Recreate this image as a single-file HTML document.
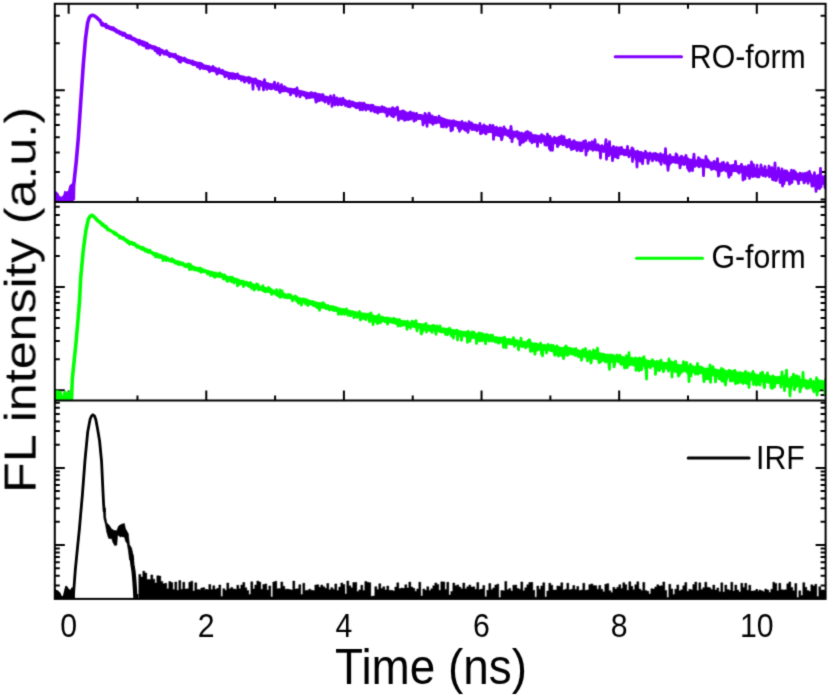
<!DOCTYPE html>
<html><head><meta charset="utf-8"><style>
html,body{margin:0;padding:0;background:#fff;}
svg{display:block;}
</style></head><body>
<svg width="828" height="697" viewBox="0 0 828 697">
<defs><filter id="bl" x="0" y="0" width="828" height="697" filterUnits="userSpaceOnUse" color-interpolation-filters="sRGB"><feConvolveMatrix order="3" kernelMatrix="0.0225 0.105 0.0225 0.105 0.49 0.105 0.0225 0.105 0.0225" divisor="1" edgeMode="duplicate"/></filter><clipPath id="c0"><rect x="54.8" y="3.8" width="770.8" height="198.1"/></clipPath><clipPath id="c1"><rect x="54.8" y="201.9" width="770.8" height="198.7"/></clipPath><clipPath id="c2"><rect x="54.8" y="400.6" width="770.8" height="198.3"/></clipPath></defs>
<g filter="url(#bl)">
<rect width="828" height="697" fill="#fff"/>
<path d="M54.8 199.48H59.8 M825.6 199.48H820.6 M54.8 171.97H59.8 M825.6 171.97H820.6 M54.8 152.45H59.8 M825.6 152.45H820.6 M54.8 137.31H59.8 M825.6 137.31H820.6 M54.8 124.94H59.8 M825.6 124.94H820.6 M54.8 114.48H59.8 M825.6 114.48H820.6 M54.8 105.42H59.8 M825.6 105.42H820.6 M54.8 97.43H59.8 M825.6 97.43H820.6 M54.8 90.28H64.8 M825.6 90.28H815.6 M54.8 43.25H59.8 M825.6 43.25H820.6 M54.8 15.74H59.8 M825.6 15.74H820.6 M54.8 394.98H59.8 M825.6 394.98H820.6 M54.8 390.26H64.8 M825.6 390.26H815.6 M54.8 359.19H59.8 M825.6 359.19H820.6 M54.8 341.01H59.8 M825.6 341.01H820.6 M54.8 328.12H59.8 M825.6 328.12H820.6 M54.8 318.11H59.8 M825.6 318.11H820.6 M54.8 309.94H59.8 M825.6 309.94H820.6 M54.8 303.03H59.8 M825.6 303.03H820.6 M54.8 297.04H59.8 M825.6 297.04H820.6 M54.8 291.76H59.8 M825.6 291.76H820.6 M54.8 287.04H64.8 M825.6 287.04H815.6 M54.8 255.97H59.8 M825.6 255.97H820.6 M54.8 237.79H59.8 M825.6 237.79H820.6 M54.8 224.9H59.8 M825.6 224.9H820.6 M54.8 214.89H59.8 M825.6 214.89H820.6 M54.8 206.72H59.8 M825.6 206.72H820.6 M54.8 585.4H59.8 M825.6 585.4H820.6 M54.8 575.76H59.8 M825.6 575.76H820.6 M54.8 568.28H59.8 M825.6 568.28H820.6 M54.8 562.17H59.8 M825.6 562.17H820.6 M54.8 557H59.8 M825.6 557H820.6 M54.8 552.53H59.8 M825.6 552.53H820.6 M54.8 548.58H59.8 M825.6 548.58H820.6 M54.8 545.05H64.8 M825.6 545.05H815.6 M54.8 521.82H59.8 M825.6 521.82H820.6 M54.8 508.23H59.8 M825.6 508.23H820.6 M54.8 498.59H59.8 M825.6 498.59H820.6 M54.8 491.11H59.8 M825.6 491.11H820.6 M54.8 485H59.8 M825.6 485H820.6 M54.8 479.83H59.8 M825.6 479.83H820.6 M54.8 475.36H59.8 M825.6 475.36H820.6 M54.8 471.41H59.8 M825.6 471.41H820.6 M54.8 467.88H64.8 M825.6 467.88H815.6 M54.8 444.65H59.8 M825.6 444.65H820.6 M54.8 431.06H59.8 M825.6 431.06H820.6 M54.8 421.42H59.8 M825.6 421.42H820.6 M54.8 413.94H59.8 M825.6 413.94H820.6 M54.8 407.83H59.8 M825.6 407.83H820.6 M54.8 402.66H59.8 M825.6 402.66H820.6 M68.65 3.8V13.8 M68.65 201.9V191.9 M68.65 400.6V390.6 M68.65 598.9V588.9 M137.47 3.8V8.8 M137.47 201.9V196.9 M137.47 400.6V395.6 M137.47 598.9V593.9 M206.28 3.8V13.8 M206.28 201.9V191.9 M206.28 400.6V390.6 M206.28 598.9V588.9 M275.1 3.8V8.8 M275.1 201.9V196.9 M275.1 400.6V395.6 M275.1 598.9V593.9 M343.91 3.8V13.8 M343.91 201.9V191.9 M343.91 400.6V390.6 M343.91 598.9V588.9 M412.73 3.8V8.8 M412.73 201.9V196.9 M412.73 400.6V395.6 M412.73 598.9V593.9 M481.54 3.8V13.8 M481.54 201.9V191.9 M481.54 400.6V390.6 M481.54 598.9V588.9 M550.36 3.8V8.8 M550.36 201.9V196.9 M550.36 400.6V395.6 M550.36 598.9V593.9 M619.17 3.8V13.8 M619.17 201.9V191.9 M619.17 400.6V390.6 M619.17 598.9V588.9 M687.99 3.8V8.8 M687.99 201.9V196.9 M687.99 400.6V395.6 M687.99 598.9V593.9 M756.8 3.8V13.8 M756.8 201.9V191.9 M756.8 400.6V390.6 M756.8 598.9V588.9" stroke="#000" stroke-width="2.0" fill="none"/>
<g clip-path="url(#c0)" fill="#8000FF"><path d="M101.5 21.4 102 21.68 102.5 21.93 103 21.87 103.5 22.06 104 22.66 104.5 22.95 105 23.45 105.5 23.47 106 23.34 106.5 23.99 107 24.32 107.5 24.61 108 24.69 108.5 24.55 109 25.4 109.5 25.17 110 25.75 110.5 25.46 111 26.29 111.5 26.15 112 26.86 112.5 27.28 113 27.37 113.5 27.04 114 27.34 114.5 27.6 115 28.23 115.5 28.39 116 28.59 116.5 28.87 117 29.18 117.5 29.44 118 29.94 118.5 29.74 119 30.05 119.5 29.77 120 30.14 120.5 30.54 121 30.66 121.5 31.25 122 31.69 122.5 31.56 123 31.78 123.5 32.01 124 32.41 124.5 32.48 125 32.95 125.5 33.16 126 33.4 126.5 33.74 127 33.79 127.5 34.05 128 34.69 128.5 34.47 129 34.91 129.5 34.96 130 35.06 130.5 35.29 131 35.43 131.5 35.87 132 35.95 132.5 36.22 133 36.86 133.5 36.75 134 37.29 134.5 37.3 135 37.68 135.5 37.54 136 37.95 136.5 38.8 137 38.57 137.5 38.84 138 38.87 138.5 39.25 139 38.97 139.5 39.27 140 39.81 140.5 40.13 141 40.04 141.5 40.32 142 40.5 142.5 40.76 143 40.73 143.5 40.89 144 41.44 144.5 41.25 145 41.65 145.5 41.95 146 42.07 146.5 42.6 147 42.65 147.5 42.95 148 42.94 148.5 43.22 149 43.74 149.5 43.92 150 43.92 150.5 44.34 151 44.51 151.5 44.71 152 45.28 152.5 44.99 153 45.41 153.5 45.62 154 45.66 154.5 45.64 155 46.31 155.5 46.41 156 46.56 156.5 46.76 157 46.97 157.5 46.94 158 47.44 158.5 47.12 159 47.77 159.5 47.6 160 48.09 160.5 48.56 161 48.52 161.5 48.66 162 49.11 162.5 49.12 163 49.28 163.5 49.48 164 50.16 164.5 50.14 165 50.29 165.5 50.07 166 50.72 166.5 50.44 167 51.08 167.5 50.87 168 51.83 168.5 51.12 169 52.04 169.5 52.12 170 51.67 170.5 52.25 171 52.86 171.5 52.97 172 52.46 172.5 52.94 173 52.96 173.5 53.19 174 53.47 174.5 54.28 175 54.04 175.5 54.14 176 54.3 176.5 54.73 177 54.92 177.5 54.7 178 55.49 178.5 55.03 179 55.42 179.5 55.78 180 56.28 180.5 55.95 181 56.28 181.5 56.72 182 56.73 182.5 57.04 183 57.19 183.5 57.18 184 57.45 184.5 57.7 185 57.64 185.5 58.22 186 57.51 186.5 57.95 187 58.71 187.5 58.64 188 58.54 188.5 58.97 189 59.32 189.5 59.09 190 59.59 190.5 59.54 191 59.72 191.5 59.9 192 60.37 192.5 59.98 193 60.34 193.5 60.77 194 60.47 194.5 60.55 195 61.25 195.5 61.28 196 61.41 196.5 61.65 197 61.54 197.5 62.68 198 61.87 198.5 62.17 199 62.09 199.5 62.51 200 63.16 200.5 62.95 201 63.26 201.5 63.15 202 63.89 202.5 63.64 203 63.45 203.5 64.11 204 63.99 204.5 64.4 205 64.44 205.5 64.63 206 64.76 206.5 64.66 207 64.67 207.5 65.45 208 65.33 208.5 65.59 209 65.57 209.5 65.33 210 65.68 210.5 66.5 211 66.11 211.5 66.37 212 66.26 212.5 66.65 213 66.84 213.5 67.03 214 67.22 214.5 67.24 215 67.41 215.5 67.7 216 67.94 216.5 67.97 217 68.6 217.5 68.37 218 68.51 218.5 68.45 219 69.03 219.5 68.66 220 68.67 220.5 68.98 221 69.52 221.5 69.23 222 69.99 222.5 69.81 223 69.59 223.5 70.06 224 70.71 224.5 70.19 225 70.23 225.5 70.83 226 71.18 226.5 71.25 227 71.06 227.5 71.34 228 71.52 228.5 71.87 229 72.26 229.5 71.84 230 72.34 230.5 72.07 231 72.45 231.5 72.21 232 72.4 232.5 72.83 233 72.65 233.5 73.24 234 73.02 234.5 73.32 235 73.42 235.5 73.5 236 73.76 236.5 74.13 237 74.78 237.5 73.85 238 74.36 238.5 74.38 239 74.34 239.5 74.77 240 74.62 240.5 74.96 241 75.43 241.5 74.75 242 75.46 242.5 75.64 243 75.43 243.5 75.94 244 76.03 244.5 75.99 245 76.52 245.5 76.03 246 76.65 246.5 76.57 247 76.5 247.5 76.85 248 76.94 248.5 77.37 249 76.93 249.5 77.39 250 77.45 250.5 78.1 251 77.56 251.5 78.24 252 77.67 252.5 78.32 253 78.34 253.5 78.6 254 78.46 254.5 78.28 255 78.52 255.5 79.36 256 79.22 256.5 79.08 257 79.65 257.5 79.37 258 79.51 258.5 79.52 259 80.25 259.5 80.57 260 79.97 260.5 80.41 261 80.72 261.5 81.13 262 80.13 262.5 80.89 263 81.15 263.5 80.75 264 81.35 264.5 81.42 265 81.68 265.5 81.48 266 81.86 266.5 81.73 267 82.16 267.5 82.18 268 82.17 268.5 82.04 269 82.93 269.5 82.92 270 82.99 270.5 82.73 271 82.93 271.5 83.56 272 83.46 272.5 83.18 273 83.53 273.5 83.68 274 83.72 274.5 83.66 275 84.33 275.5 84.29 276 84.22 276.5 84 277 84.37 277.5 84.63 278 84.98 278.5 84.79 279 85.28 279.5 85.16 280 85.06 280.5 84.67 281 85.2 281.5 85.24 282 85.7 282.5 85.94 283 86.33 283.5 86.1 284 85.93 284.5 86.93 285 86.54 285.5 86.51 286 86.63 286.5 86.48 287 87.1 287.5 87.15 288 87.57 288.5 87.57 289 87.63 289.5 87.85 290 87.58 290.5 87.66 291 87.88 291.5 87.69 292 88.09 292.5 88.16 293 88.53 293.5 88.47 294 88.11 294.5 88.72 295 89.18 295.5 88.48 296 88.87 296.5 89.18 297 88.96 297.5 89.27 298 89.54 298.5 89.31 299 89.83 299.5 89.97 300 89.66 300.5 90.1 301 90.48 301.5 90.28 302 90.55 302.5 90.71 303 90.61 303.5 91.03 304 90.99 304.5 90.76 305 91.25 305.5 91.45 306 91.55 306.5 91.3 307 91.69 307.5 92.03 308 91.85 308.5 92.2 309 92.35 309.5 92.12 310 92.41 310.5 92.28 311 92.73 311.5 92.56 312 92.55 312.5 92.79 313 92.89 313.5 93.12 314 93.25 314.5 92.95 315 93.19 315.5 93.55 316 93.69 316.5 93.7 317 94.45 317.5 94.18 318 93.99 318.5 94.3 319 94.56 319.5 94.43 320 94.01 320.5 94.58 321 94.67 321.5 95.3 322 94.42 322.5 95.37 323 95.05 323.5 95.43 324 95.23 324.5 95.46 325 95.81 325.5 95.65 326 96 326.5 95.82 327 95.85 327.5 96 328 96.04 328.5 96.24 329 96.71 329.5 96.19 330 96.17 330.5 96.69 331 97.22 331.5 97.16 332 97.34 332.5 97.43 333 97.04 333.5 97.35 334 96.76 334.5 97.38 335 97.79 335.5 97.35 336 97.33 336.5 97.62 337 98.11 337.5 98.45 338 98.91 338.5 98.72 339 98.09 339.5 97.99 340 98.71 340.5 99.04 341 98.48 341.5 98.85 342 98.98 342.5 99.2 343 99.25 343.5 99.53 344 99.76 344.5 99.62 345 99.89 345.5 100.3 346 99.65 346.5 99.75 347 100.24 347.5 100.68 348 100.36 348.5 100.69 349 100.44 349.5 100.85 350 100.56 350.5 100.99 351 101.02 351.5 101.12 352 101.47 352.5 101.49 353 101.18 353.5 101.65 354 101.1 354.5 101.88 355 102.42 355.5 101.96 356 102.06 356.5 102.05 357 102.34 357.5 102.12 358 102.5 358.5 102.36 359 102.42 359.5 102.66 360 102.71 360.5 102.39 361 103.44 361.5 103.06 362 102.7 362.5 103.49 363 103.31 363.5 103.47 364 103.69 364.5 103.39 365 102.98 365.5 103.79 366 103.97 366.5 104.26 367 103.91 367.5 104.13 368 104.4 368.5 104.32 369 104.43 369.5 104.65 370 104.44 370.5 105.18 371 104.65 371.5 104.99 372 104.99 372.5 104.99 373 105.4 373.5 105.62 374 105.82 374.5 105.7 375 105.54 375.5 105.96 376 105.48 376.5 105.95 377 106.17 377.5 106.27 378 105.94 378.5 105.95 379 106.83 379.5 106.38 380 106.2 380.5 106.39 381 106.8 381.5 107.19 382 106.99 382.5 107.38 383 107.23 383.5 107.39 384 107.61 384.5 107.37 385 107.63 385.5 107.55 386 107.58 386.5 108 387 107.73 387.5 108.05 388 107.92 388.5 108.19 389 108.18 389.5 108.68 390 108.52 390.5 108.61 391 109.1 391.5 108.05 392 108.59 392.5 108.28 393 109.05 393.5 109.26 394 109.4 394.5 109.4 395 109.21 395.5 109.96 396 109.69 396.5 109.64 397 109.52 397.5 110 398 109.86 398.5 109.97 399 110.23 399.5 110.32 400 110.15 400.5 110.77 401 110.29 401.5 110.36 402 110.81 402.5 110.86 403 110.93 403.5 110.91 404 111.11 404.5 111.05 405 110.87 405.5 111.56 406 111.22 406.5 111.51 407 111.84 407.5 111.76 408 112.53 408.5 111.58 409 111.84 409.5 112.14 410 112.55 410.5 112.24 411 112.04 411.5 112.77 412 112.35 412.5 112.62 413 112.99 413.5 112.69 414 112.84 414.5 113.16 415 113.08 415.5 113.3 416 113.08 416.5 113.38 417 113.23 417.5 113.2 418 114.12 418.5 113.89 419 114.1 419.5 113.72 420 114.04 420.5 114.09 421 113.88 421.5 114.46 422 114.24 422.5 114.46 423 114.22 423.5 114.94 424 114.98 424.5 114.98 425 114.74 425.5 114.93 426 115.46 426.5 115.17 427 115.4 427.5 115.46 428 115.24 428.5 115.99 429 115.2 429.5 115.85 430 115.86 430.5 115.57 431 116.15 431.5 116.29 432 116.26 432.5 116.13 433 116.54 433.5 116.8 434 116.67 434.5 117.13 435 117.01 435.5 117.08 436 117.32 436.5 116.9 437 117.03 437.5 117.38 438 117.47 438.5 117.81 439 117.81 439.5 117.66 440 117.76 440.5 117.73 441 117.79 441.5 117.86 442 118.29 442.5 118.04 443 118.16 443.5 118.38 444 118.3 444.5 118.46 445 118.07 445.5 118.8 446 118.72 446.5 118.93 447 119.07 447.5 118.6 448 119.76 448.5 119.29 449 119.39 449.5 118.99 450 119.68 450.5 119.72 451 119.62 451.5 119.87 452 120.22 452.5 119.9 453 119.85 453.5 120.5 454 120.33 454.5 120.31 455 121.02 455.5 120.57 456 120.58 456.5 120.78 457 120.7 457.5 120.95 458 121.02 458.5 120.91 459 121.1 459.5 121.33 460 121.43 460.5 121.57 461 121.71 461.5 121.67 462 121.82 462.5 121.69 463 121.81 463.5 122.22 464 121.55 464.5 122.23 465 123.02 465.5 121.85 466 122.78 466.5 122.05 467 122.67 467.5 123.07 468 123.12 468.5 122.61 469 122.6 469.5 122.65 470 123.28 470.5 123.09 471 123.28 471.5 123.43 472 123.55 472.5 123.67 473 123.66 473.5 123.31 474 124.17 474.5 123.2 475 124.29 475.5 123.92 476 124.11 476.5 124.11 477 124.24 477.5 124.41 478 124.44 478.5 124.32 479 124.9 479.5 124.63 480 125.19 480.5 124.91 481 124.86 481.5 125.23 482 125.43 482.5 125.07 483 125.31 483.5 125.83 484 125.31 484.5 125.44 485 125.78 485.5 125.52 486 125.3 486.5 125.58 487 126.18 487.5 126.34 488 126.41 488.5 126.45 489 126.13 489.5 126.69 490 126.9 490.5 126.52 491 127.02 491.5 126.78 492 127.01 492.5 127.14 493 126.76 493.5 127.59 494 127.1 494.5 127.37 495 127.36 495.5 127.69 496 127.77 496.5 127.75 497 128.18 497.5 127.99 498 127.91 498.5 127.37 499 128.11 499.5 128.19 500 128.13 500.5 128.22 501 128.67 501.5 128.87 502 129.17 502.5 129.07 503 128.69 503.5 129.02 504 128.7 504.5 129.31 505 129.31 505.5 129.15 506 129.36 506.5 129.41 507 129.4 507.5 129.98 508 130.51 508.5 130.03 509 130.17 509.5 130.03 510 129.99 510.5 130.71 511 130.16 511.5 130.44 512 130.39 512.5 130.66 513 130.58 513.5 130.83 514 130.45 514.5 130.83 515 131.28 515.5 130.76 516 130.94 516.5 131.54 517 131.38 517.5 131.63 518 130.89 518.5 131.57 519 131.3 519.5 131.36 520 131.89 520.5 132.17 521 131.59 521.5 131.77 522 131.98 522.5 132.18 523 131.97 523.5 132.95 524 132.62 524.5 132.47 525 132.51 525.5 133.31 526 133.37 526.5 132.77 527 133.07 527.5 133.38 528 132.85 528.5 133.09 529 133.66 529.5 133.23 530 133.38 530.5 133.23 531 133.46 531.5 133.91 532 133.62 532.5 133.58 533 133.83 533.5 134.52 534 134.2 534.5 134.1 535 134.37 535.5 134.52 536 134.53 536.5 134.12 537 134.74 537.5 134.69 538 135.04 538.5 134.57 539 135.26 539.5 134.96 540 134.74 540.5 135.58 541 135.2 541.5 135.51 542 135.46 542.5 135.86 543 135.94 543.5 136.03 544 136.01 544.5 135.51 545 135.58 545.5 136.13 546 135.93 546.5 136.37 547 136.37 547.5 136.06 548 136.24 548.5 136.3 549 136.44 549.5 136.7 550 137 550.5 137.25 551 136.75 551.5 136.94 552 137.56 552.5 137.47 553 137.39 553.5 136.82 554 137.24 554.5 137.62 555 137.51 555.5 138.24 556 137.85 556.5 137.98 557 137.71 557.5 137.81 558 137.99 558.5 138.08 559 138.26 559.5 138.5 560 138.55 560.5 138.82 561 138.31 561.5 138.79 562 138.87 562.5 139.3 563 138.92 563.5 139.14 564 138.94 564.5 139.33 565 139.41 565.5 139.23 566 139.36 566.5 139.54 567 139.78 567.5 139.43 568 140.02 568.5 139.8 569 140.44 569.5 140.41 570 140.02 570.5 140.05 571 140.91 571.5 140.53 572 140.59 572.5 140.43 573 140.58 573.5 140.9 574 140.93 574.5 140.65 575 141.25 575.5 141.1 576 140.86 576.5 141.43 577 141.22 577.5 141.54 578 141.29 578.5 141.6 579 141.18 579.5 141.76 580 141.37 580.5 141.87 581 141.27 581.5 141.98 582 142.26 582.5 142.28 583 142.54 583.5 142.04 584 142.79 584.5 142.88 585 142.25 585.5 142.44 586 142.57 586.5 142.79 587 142.92 587.5 142.33 588 143.19 588.5 143.05 589 142.94 589.5 143.52 590 143.27 590.5 143.73 591 143.65 591.5 143.52 592 143.97 592.5 143.96 593 143.71 593.5 143.51 594 143.86 594.5 144.23 595 144.1 595.5 144.68 596 144.38 596.5 144.44 597 144.58 597.5 144.33 598 144.6 598.5 144.55 599 144.2 599.5 144.42 600 145.14 600.5 144.92 601 145.08 601.5 144.82 602 145.12 602.5 145.54 603 145.45 603.5 145.37 604 145.97 604.5 145.65 605 145.65 605.5 146.11 606 145.46 606.5 146.12 607 145.78 607.5 145.94 608 146.04 608.5 146.33 609 146.4 609.5 146.53 610 146.58 610.5 146.96 611 147.11 611.5 146.94 612 147.03 612.5 146.83 613 146.72 613.5 147.23 614 147.16 614.5 147.45 615 146.85 615.5 148.06 616 147.15 616.5 147.55 617 147.87 617.5 147.35 618 147.64 618.5 147.35 619 147.57 619.5 147.52 620 148.12 620.5 148.24 621 148.17 621.5 148.64 622 148.75 622.5 148.48 623 148.5 623.5 148.56 624 148.6 624.5 149.12 625 148.93 625.5 148.86 626 148.96 626.5 149.23 627 149.07 627.5 149.33 628 149.32 628.5 149.75 629 149.77 629.5 149.2 630 149.6 630.5 149.89 631 149.68 631.5 150.07 632 150.03 632.5 150.17 633 150.08 633.5 150.25 634 150.38 634.5 149.96 635 150.17 635.5 150.22 636 150.98 636.5 150.71 637 150.8 637.5 150.83 638 150.73 638.5 150.75 639 151.23 639.5 151 640 151.56 640.5 151.29 641 151.34 641.5 151.34 642 151.45 642.5 151.55 643 152 643.5 152.28 644 151.48 644.5 151.91 645 152.1 645.5 151.77 646 151.92 646.5 152.04 647 151.62 647.5 152.47 648 152.37 648.5 152.43 649 152.55 649.5 152.67 650 153.26 650.5 152.8 651 153.04 651.5 152.77 652 153.07 652.5 152.98 653 153.09 653.5 152.98 654 153.07 654.5 153.47 655 153.62 655.5 153.62 656 153.41 656.5 153.73 657 153.09 657.5 154.04 658 153.87 658.5 154.02 659 154.32 659.5 154 660 154.42 660.5 154.14 661 154.46 661.5 154.3 662 154.55 662.5 154.91 663 154.46 663.5 154.54 664 154.69 664.5 154.92 665 155.61 665.5 154.85 666 154.56 666.5 154.98 667 154.82 667.5 155.15 668 155.37 668.5 155.2 669 155.34 669.5 155.12 670 155.7 670.5 155.54 671 156.08 671.5 156.14 672 155.73 672.5 155.93 673 156.11 673.5 156.36 674 155.83 674.5 156.3 675 156.86 675.5 156.44 676 156.59 676.5 156.61 677 156.39 677.5 157 678 156.9 678.5 156.94 679 157.16 679.5 157.25 680 156.65 680.5 157.32 681 157.12 681.5 157.38 682 157.23 682.5 157.27 683 157.8 683.5 157.63 684 157.63 684.5 157.7 685 157.87 685.5 157.92 686 157.4 686.5 157.85 687 158.08 687.5 158.4 688 158.62 688.5 158.12 689 158.91 689.5 158.52 690 158.69 690.5 158.51 691 158.56 691.5 159.15 692 158.8 692.5 158.9 693 159.29 693.5 159.51 694 158.77 694.5 159.17 695 159.29 695.5 159.82 696 160.05 696.5 159.49 697 159.67 697.5 159.86 698 160.01 698.5 159.71 699 160.08 699.5 159.76 700 159.33 700.5 159.73 701 160.2 701.5 160.41 702 159.72 702.5 159.91 703 160.42 703.5 159.65 704 160.71 704.5 160.9 705 159.97 705.5 160.98 706 160.81 706.5 161.28 707 161.07 707.5 161.01 708 161.17 708.5 161.44 709 161.33 709.5 161.36 710 161.06 710.5 161.61 711 161.57 711.5 162.09 712 161.7 712.5 161.75 713 161.68 713.5 162.09 714 161.93 714.5 161.87 715 162.52 715.5 162.64 716 162.14 716.5 162.07 717 162.68 717.5 162.26 718 163.24 718.5 162.57 719 162.92 719.5 162.42 720 162.8 720.5 163.16 721 163.06 721.5 162.89 722 163.7 722.5 163.34 723 163.17 723.5 163.14 724 163.3 724.5 163.77 725 163.31 725.5 163.58 726 163.43 726.5 164.02 727 163.73 727.5 164.06 728 164.05 728.5 163.83 729 164.22 729.5 164.35 730 163.9 730.5 164.43 731 165.21 731.5 164.31 732 164.62 732.5 164.19 733 164.71 733.5 164.51 734 164.92 734.5 164.78 735 164.57 735.5 165.21 736 164.94 736.5 164.81 737 165.15 737.5 164.96 738 165.37 738.5 165.32 739 165.31 739.5 165.64 740 165.21 740.5 165.85 741 165.16 741.5 166.14 742 165.85 742.5 165.8 743 165.75 743.5 166.14 744 166.03 744.5 166.09 745 166.47 745.5 166.16 746 166.28 746.5 166.51 747 166.74 747.5 166.5 748 166.64 748.5 166.68 749 166.92 749.5 167.18 750 166.63 750.5 166.9 751 166.99 751.5 167.22 752 167.51 752.5 167.19 753 167.32 753.5 167.62 754 167.08 754.5 167.27 755 167.41 755.5 167.59 756 167.72 756.5 167.59 757 168.23 757.5 167.68 758 167.87 758.5 168.26 759 168.25 759.5 168.11 760 168.28 760.5 168.45 761 168.31 761.5 168.54 762 168.21 762.5 168.52 763 168.15 763.5 168.41 764 168.41 764.5 169.08 765 168.71 765.5 168.97 766 168.72 766.5 168.97 767 169.01 767.5 168.93 768 169.43 768.5 168.85 769 169.5 769.5 170.08 770 169.26 770.5 169.54 771 169.2 771.5 169.65 772 169.28 772.5 169.94 773 169.72 773.5 169.44 774 169.65 774.5 169.63 775 170.03 775.5 170.38 776 170.13 776.5 169.99 777 170.14 777.5 170.44 778 169.86 778.5 170.69 779 170.7 779.5 170.04 780 171.03 780.5 170.37 781 170.8 781.5 171.21 782 170.56 782.5 170.57 783 170.81 783.5 170.89 784 171.19 784.5 171.15 785 171.22 785.5 171.29 786 171.43 786.5 171.32 787 171.68 787.5 171.66 788 171.46 788.5 172.25 789 171.52 789.5 172.1 790 171.78 790.5 172.13 791 172.23 791.5 172.38 792 172.59 792.5 172.07 793 173.08 793.5 172.51 794 172.27 794.5 172.19 795 173.2 795.5 173.08 796 172.72 796.5 172.98 797 173.18 797.5 172.93 798 172.86 798.5 173.02 799 173.31 799.5 173.16 800 172.9 800.5 173.47 801 172.9 801.5 173.21 802 173.77 802.5 173.58 803 173.64 803.5 173.67 804 173.96 804.5 173.75 805 173.32 805.5 173.94 806 173.15 806.5 173.47 807 174.46 807.5 174.38 808 174.06 808.5 174.22 809 174.32 809.5 174.61 810 174.22 810.5 174.25 811 174.37 811.5 174.63 812 174.72 812.5 174.61 813 174.96 813.5 174.57 814 174.87 814.5 174.77 815 174.75 815.5 175.38 816 175.04 816.5 174.93 817 175.25 817.5 175.04 818 175.51 818.5 175.63 819 175.74 819.5 175.26 820 175.56 820.5 176.12 821 175.66 821.5 176.09 822 176.22 822.5 175.53 823 176.25 823.5 176.19 824 176.28 824.5 176.55 825 176.29 825.5 176.25 826 176.45 826.5 176.26 827 176.53 827.5 175.95 L827.5 184.23 827 184.33 826.5 184.03 826 184.27 825.5 184.05 825 183.93 824.5 183.54 824 183.74 823.5 183.37 823 183.78 822.5 183.37 822 182.81 821.5 183.25 821 182.96 820.5 182.76 820 183.38 819.5 183.18 819 182.8 818.5 182.89 818 183.08 817.5 182.93 817 182.76 816.5 182.04 816 182.85 815.5 182.8 815 182.47 814.5 182.5 814 182.56 813.5 182.16 813 182.39 812.5 182.01 812 182.07 811.5 182.41 811 182.06 810.5 182.18 810 182.05 809.5 181.78 809 181.9 808.5 181.75 808 181.47 807.5 181.95 807 181.24 806.5 181.35 806 181.49 805.5 181.14 805 180.96 804.5 180.94 804 181.4 803.5 180.86 803 181.36 802.5 181 802 181.15 801.5 180.82 801 180.65 800.5 181.02 800 180.39 799.5 180.52 799 180.65 798.5 180.66 798 180.42 797.5 180.41 797 180.52 796.5 180.69 796 180.37 795.5 180.21 795 179.8 794.5 180.19 794 180.23 793.5 179.46 793 179.67 792.5 179.31 792 179.67 791.5 179.34 791 180.12 790.5 179.81 790 179.73 789.5 179.45 789 179.29 788.5 179.13 788 179.36 787.5 179.28 787 179.2 786.5 179.35 786 179.08 785.5 178.89 785 178.88 784.5 178.58 784 178.89 783.5 178.69 783 178.34 782.5 178.43 782 177.99 781.5 178.2 781 178.19 780.5 178.29 780 178.19 779.5 177.63 779 177.62 778.5 178.16 778 177.87 777.5 177.64 777 177.78 776.5 177.11 776 177.26 775.5 177.48 775 177.69 774.5 177.48 774 177.77 773.5 177.24 773 177.52 772.5 177.53 772 177.39 771.5 177.19 771 176.91 770.5 176.92 770 176.74 769.5 176.35 769 176.76 768.5 176.69 768 176.79 767.5 176.05 767 176.48 766.5 176.86 766 176.12 765.5 176.48 765 176.33 764.5 176.09 764 175.97 763.5 175.44 763 175.56 762.5 176.12 762 175.96 761.5 175.69 761 175.57 760.5 175.42 760 175.44 759.5 175.55 759 175.32 758.5 174.97 758 175.44 757.5 175.08 757 175.58 756.5 174.77 756 174.58 755.5 174.76 755 174.69 754.5 174.51 754 174.59 753.5 174.36 753 175.12 752.5 174.41 752 174.59 751.5 174.3 751 173.56 750.5 174.12 750 173.8 749.5 174.26 749 173.99 748.5 174.14 748 173.84 747.5 173.88 747 173.68 746.5 173.86 746 173.8 745.5 173.76 745 173.09 744.5 173.47 744 173.32 743.5 173.74 743 173.21 742.5 172.9 742 173.66 741.5 173.06 741 172.97 740.5 172.78 740 172.72 739.5 172.95 739 172.58 738.5 172.36 738 172.6 737.5 172.5 737 172.4 736.5 172.54 736 172.1 735.5 172.03 735 172.36 734.5 172.11 734 171.89 733.5 171.75 733 171.94 732.5 172.05 732 171.77 731.5 171.31 731 171.54 730.5 171.24 730 171.34 729.5 171.85 729 171.29 728.5 171.29 728 171.57 727.5 171.03 727 171.1 726.5 170.79 726 170.65 725.5 170.58 725 170.5 724.5 170.66 724 170.46 723.5 170.68 723 170.34 722.5 169.95 722 170.45 721.5 170.01 721 169.77 720.5 170.14 720 170.19 719.5 169.66 719 170.49 718.5 169.82 718 169.67 717.5 170.14 717 169.53 716.5 169.57 716 169.58 715.5 169.32 715 169.13 714.5 168.94 714 169.42 713.5 168.79 713 168.88 712.5 168.51 712 168.74 711.5 168.6 711 168.61 710.5 168.6 710 168.67 709.5 168.19 709 168.32 708.5 168.29 708 168.29 707.5 168.15 707 168.2 706.5 168.23 706 167.51 705.5 167.59 705 167.97 704.5 167.37 704 168.11 703.5 167.22 703 167.79 702.5 167.95 702 167.13 701.5 167.67 701 167.55 700.5 167.05 700 166.85 699.5 167.42 699 166.82 698.5 166.73 698 166.62 697.5 166.63 697 166.82 696.5 166.25 696 166.57 695.5 166.72 695 165.95 694.5 165.75 694 165.95 693.5 166.23 693 166.47 692.5 165.96 692 165.64 691.5 166.07 691 166.1 690.5 165.24 690 165.54 689.5 165.29 689 165.19 688.5 165.41 688 165.53 687.5 164.95 687 165.3 686.5 164.97 686 165.02 685.5 165.13 685 164.91 684.5 164.92 684 164.56 683.5 164.51 683 164.66 682.5 164.73 682 164.06 681.5 164.57 681 163.93 680.5 163.99 680 164.07 679.5 164.47 679 163.78 678.5 164.34 678 163.9 677.5 163.76 677 163.56 676.5 163.59 676 163.37 675.5 163.41 675 162.68 674.5 163.24 674 163.14 673.5 163.06 673 163.04 672.5 162.89 672 162.37 671.5 162.97 671 162.87 670.5 163 670 162.37 669.5 162.87 669 162.81 668.5 161.7 668 162.57 667.5 162.1 667 162.04 666.5 162.37 666 162.22 665.5 161.88 665 161.7 664.5 161.98 664 161.48 663.5 161.74 663 161.43 662.5 161.58 662 161.43 661.5 161.05 661 161.42 660.5 161.27 660 161.19 659.5 161.08 659 161.11 658.5 160.72 658 161.16 657.5 160.6 657 160.42 656.5 160.35 656 160.56 655.5 160.16 655 160.54 654.5 159.94 654 160.46 653.5 160 653 160.29 652.5 160.1 652 159.78 651.5 159.48 651 159.56 650.5 159.6 650 159.59 649.5 159.53 649 159.43 648.5 159.15 648 158.98 647.5 158.81 647 159.31 646.5 159.06 646 159.1 645.5 158.55 645 159.16 644.5 158.59 644 158.84 643.5 158.81 643 158.33 642.5 158.65 642 158.2 641.5 158.27 641 158.09 640.5 157.79 640 157.88 639.5 157.95 639 157.49 638.5 157.85 638 157.53 637.5 157.75 637 157.52 636.5 157.56 636 157.41 635.5 156.97 635 157.3 634.5 157.16 634 157.23 633.5 157.33 633 157.38 632.5 156.57 632 156.66 631.5 156.93 631 156.45 630.5 156.44 630 156.46 629.5 156.46 629 156.22 628.5 156.31 628 156.38 627.5 155.98 627 155.91 626.5 156.08 626 156.13 625.5 155.4 625 155.46 624.5 155.71 624 155.42 623.5 155.79 623 155.72 622.5 155.32 622 154.74 621.5 154.72 621 155 620.5 154.99 620 154.71 619.5 154.63 619 154.3 618.5 155.03 618 154.5 617.5 154.63 617 154.23 616.5 154.47 616 154.7 615.5 154.24 615 154.18 614.5 153.84 614 153.89 613.5 153.93 613 153.73 612.5 153.92 612 153.72 611.5 153.58 611 153.42 610.5 153.21 610 152.94 609.5 152.97 609 153.32 608.5 152.84 608 152.84 607.5 153.24 607 152.42 606.5 152.58 606 152.71 605.5 152.7 605 152.8 604.5 152.49 604 152.4 603.5 152.65 603 152.35 602.5 152.46 602 152 601.5 151.65 601 152.14 600.5 151.71 600 151.56 599.5 151.54 599 151.71 598.5 151.75 598 151.75 597.5 151.1 597 151.28 596.5 151.26 596 151.4 595.5 151.33 595 150.62 594.5 150.63 594 150.34 593.5 150.8 593 150.26 592.5 150.66 592 150.43 591.5 150.27 591 150.46 590.5 149.76 590 150.36 589.5 150.13 589 149.77 588.5 149.57 588 149.46 587.5 149.58 587 149.66 586.5 149.11 586 149.14 585.5 149.34 585 149 584.5 148.91 584 148.32 583.5 148.84 583 148.86 582.5 148.62 582 149.21 581.5 148.71 581 148.41 580.5 148.38 580 147.84 579.5 148.02 579 147.72 578.5 148.13 578 148.23 577.5 147.89 577 147.92 576.5 148.06 576 147.69 575.5 147.35 575 147.33 574.5 147.74 574 147.43 573.5 147.33 573 147.31 572.5 147.27 572 147.17 571.5 147.12 571 147.15 570.5 146.48 570 146.67 569.5 146.49 569 146.86 568.5 146.83 568 146.52 567.5 146.64 567 146.1 566.5 145.8 566 145.56 565.5 146 565 145.71 564.5 145.47 564 145.62 563.5 145.52 563 145.5 562.5 145.34 562 145.1 561.5 144.81 561 145.22 560.5 144.97 560 145.05 559.5 145.17 559 144.87 558.5 144.5 558 144.38 557.5 144.57 557 144.58 556.5 144.38 556 144.36 555.5 144.22 555 143.79 554.5 144.03 554 143.74 553.5 143.59 553 143.74 552.5 143.7 552 143.75 551.5 143.05 551 143.32 550.5 143.59 550 142.86 549.5 143.62 549 143.56 548.5 143.23 548 143.14 547.5 142.83 547 142.79 546.5 143.02 546 142.84 545.5 142.86 545 142.64 544.5 142.28 544 142.18 543.5 142.75 543 142.28 542.5 142 542 142.06 541.5 141.97 541 141.88 540.5 141.78 540 141.61 539.5 141.33 539 141.59 538.5 142.06 538 141.21 537.5 141.35 537 140.82 536.5 140.79 536 140.82 535.5 140.85 535 140.67 534.5 140.53 534 140.73 533.5 140.64 533 140.32 532.5 140.08 532 139.95 531.5 140.39 531 139.88 530.5 139.79 530 140.12 529.5 139.78 529 139.16 528.5 139.53 528 139.63 527.5 139.18 527 139.59 526.5 139.48 526 138.97 525.5 139.14 525 139.19 524.5 139.11 524 138.86 523.5 138.81 523 138.67 522.5 138.76 522 138.74 521.5 138.44 521 138.32 520.5 138.35 520 137.82 519.5 138 519 138.03 518.5 138.28 518 137.73 517.5 137.64 517 137.58 516.5 137.76 516 137.53 515.5 137.71 515 136.85 514.5 137.39 514 137.44 513.5 137.29 513 137.21 512.5 136.16 512 136.74 511.5 136.88 511 136.62 510.5 136.22 510 136.49 509.5 136.08 509 135.95 508.5 136.24 508 136.19 507.5 135.82 507 135.51 506.5 136.02 506 135.75 505.5 135.52 505 135.25 504.5 135.65 504 135.69 503.5 135.16 503 135.51 502.5 134.88 502 135.22 501.5 134.93 501 134.86 500.5 134.46 500 134.75 499.5 134.66 499 134.11 498.5 133.86 498 134.19 497.5 134.17 497 134.04 496.5 133.7 496 133.54 495.5 134.01 495 133.5 494.5 133.55 494 133.89 493.5 133.37 493 133.65 492.5 133.22 492 133.2 491.5 133.27 491 132.79 490.5 133.26 490 132.95 489.5 132.67 489 132.44 488.5 132.38 488 132.5 487.5 132.27 487 132.57 486.5 132.6 486 132.17 485.5 132.35 485 131.56 484.5 131.9 484 131.93 483.5 131.43 483 131.24 482.5 131.45 482 131.8 481.5 131.51 481 131.33 480.5 131.4 480 131.34 479.5 130.68 479 130.83 478.5 130.82 478 130.38 477.5 130.7 477 130.4 476.5 130.55 476 130.72 475.5 130.4 475 130.72 474.5 130.24 474 130.11 473.5 129.32 473 129.55 472.5 129.6 472 129.5 471.5 129.42 471 128.99 470.5 129.39 470 129.19 469.5 129.13 469 128.9 468.5 128.97 468 128.53 467.5 128.26 467 128.46 466.5 128.4 466 128.46 465.5 128.65 465 128.26 464.5 127.58 464 128.56 463.5 127.92 463 127.6 462.5 128.09 462 127.62 461.5 127.81 461 127.77 460.5 127.36 460 127.22 459.5 127.48 459 127.67 458.5 127.02 458 127.01 457.5 126.87 457 126.76 456.5 126.65 456 126.66 455.5 126.39 455 126.96 454.5 126.52 454 126.77 453.5 126.15 453 126.09 452.5 126.13 452 125.96 451.5 125.82 451 126.01 450.5 126.01 450 125.83 449.5 125.69 449 125.49 448.5 125.56 448 124.98 447.5 125.15 447 125.21 446.5 124.9 446 125.24 445.5 125.23 445 124.51 444.5 124.87 444 124.25 443.5 124.52 443 124.62 442.5 124.12 442 124.14 441.5 123.45 441 124.21 440.5 123.52 440 123.37 439.5 123.62 439 123.51 438.5 123.18 438 123.39 437.5 123.43 437 123.21 436.5 122.88 436 123.01 435.5 123.6 435 123.05 434.5 122.84 434 122.5 433.5 122.17 433 121.97 432.5 122.26 432 122.15 431.5 122.02 431 121.9 430.5 121.89 430 121.74 429.5 121.59 429 121.25 428.5 121.72 428 121.16 427.5 121.65 427 121.35 426.5 121.16 426 121.04 425.5 120.65 425 121.15 424.5 120.96 424 120.7 423.5 120.65 423 120.7 422.5 120.54 422 120.45 421.5 120.15 421 119.83 420.5 120.28 420 119.97 419.5 120.12 419 119.6 418.5 119.83 418 119.91 417.5 119.45 417 119.01 416.5 119.44 416 119.24 415.5 119.34 415 119.38 414.5 119.11 414 118.53 413.5 118.63 413 118.79 412.5 118.52 412 118.52 411.5 118.1 411 118.2 410.5 118.01 410 118.42 409.5 117.78 409 118.35 408.5 117.85 408 117.91 407.5 117.78 407 117.85 406.5 116.99 406 117.14 405.5 117.15 405 117.39 404.5 117.13 404 117.07 403.5 117.06 403 117.16 402.5 116.6 402 116.59 401.5 116.28 401 116.42 400.5 116.7 400 116.29 399.5 116.18 399 115.73 398.5 116.18 398 116 397.5 116.28 397 115.85 396.5 115.32 396 115.37 395.5 115.29 395 115.5 394.5 114.7 394 114.8 393.5 114.88 393 114.59 392.5 114.85 392 114.8 391.5 114.85 391 114.41 390.5 114.25 390 114.43 389.5 114.54 389 113.89 388.5 113.84 388 113.82 387.5 113.71 387 113.6 386.5 113.71 386 112.83 385.5 113.5 385 113.68 384.5 113.38 384 113.45 383.5 112.73 383 112.47 382.5 112.79 382 112.84 381.5 112.38 381 112.88 380.5 112.35 380 112.72 379.5 112.4 379 112.7 378.5 112.12 378 112.44 377.5 111.98 377 111.63 376.5 111.78 376 111.73 375.5 111.35 375 111.12 374.5 111.03 374 111.15 373.5 111.05 373 111.07 372.5 110.55 372 110.62 371.5 110.54 371 110.7 370.5 110.45 370 110.68 369.5 110.18 369 110.47 368.5 110.27 368 109.72 367.5 109.94 367 109.7 366.5 109.76 366 110.19 365.5 109.39 365 109.25 364.5 109.53 364 109.2 363.5 108.93 363 108.75 362.5 108.44 362 108.81 361.5 109.09 361 108.44 360.5 108.62 360 108.5 359.5 108.61 359 107.84 358.5 107.96 358 108.29 357.5 107.65 357 107.48 356.5 107.17 356 107.59 355.5 107.88 355 107.34 354.5 107.08 354 107.28 353.5 106.82 353 107.23 352.5 106.98 352 107.03 351.5 106.42 351 106.96 350.5 106.82 350 106.17 349.5 106.81 349 106.18 348.5 106.27 348 106.03 347.5 105.92 347 106.04 346.5 105.59 346 105.52 345.5 105.35 345 105.58 344.5 105.45 344 105.11 343.5 105.28 343 104.58 342.5 104.65 342 104.54 341.5 104.6 341 104.52 340.5 104.72 340 103.87 339.5 104.48 339 104.07 338.5 104.07 338 103.58 337.5 103.65 337 103.51 336.5 103.47 336 103.46 335.5 103.37 335 103.2 334.5 103.36 334 102.74 333.5 102.92 333 102.96 332.5 102.91 332 102.65 331.5 102.12 331 101.92 330.5 101.83 330 102.3 329.5 101.99 329 102.02 328.5 101.86 328 102.13 327.5 101.21 327 100.81 326.5 101.2 326 101.42 325.5 101.46 325 100.95 324.5 101.08 324 100.79 323.5 100.72 323 100.6 322.5 100.96 322 100.64 321.5 100.64 321 100.2 320.5 100.13 320 100.11 319.5 100.26 319 99.87 318.5 99.86 318 99.99 317.5 99.66 317 99.12 316.5 99.6 316 99.02 315.5 98.84 315 99.06 314.5 98.99 314 98.69 313.5 98.57 313 98.3 312.5 98.39 312 98.24 311.5 98.64 311 98.17 310.5 97.93 310 97.88 309.5 96.93 309 97.34 308.5 97.42 308 97.67 307.5 97.12 307 96.79 306.5 97.11 306 96.93 305.5 96.35 305 96.9 304.5 96.41 304 96.53 303.5 96.27 303 96.21 302.5 96.1 302 96.04 301.5 95.8 301 95.72 300.5 95.51 300 95.52 299.5 94.67 299 95.41 298.5 95.09 298 95.04 297.5 95.27 297 94.99 296.5 94.73 296 94.67 295.5 94.72 295 94.72 294.5 94.11 294 94.24 293.5 94.44 293 93.3 292.5 93.41 292 93.6 291.5 93.43 291 92.93 290.5 93.29 290 93.26 289.5 93.21 289 92.6 288.5 92.73 288 92.5 287.5 92.08 287 91.95 286.5 92.1 286 92.21 285.5 92.07 285 92.22 284.5 92.24 284 91.46 283.5 91.39 283 91.38 282.5 91.41 282 91.44 281.5 90.86 281 91.29 280.5 90.88 280 91.22 279.5 90.32 279 90.67 278.5 90.35 278 90.36 277.5 90.29 277 90.38 276.5 90.01 276 89.84 275.5 89.47 275 89.4 274.5 89.17 274 89.26 273.5 89.18 273 88.77 272.5 88.63 272 89.25 271.5 88.7 271 88.16 270.5 87.59 270 88.03 269.5 87.89 269 88.06 268.5 87.17 268 87.8 267.5 87.44 267 87.49 266.5 87.18 266 87.37 265.5 87.06 265 86.74 264.5 86.35 264 86.63 263.5 86.58 263 86.26 262.5 86.82 262 85.81 261.5 85.87 261 85.77 260.5 85.59 260 85.16 259.5 85.7 259 85.01 258.5 85.28 258 85.53 257.5 84.53 257 84.6 256.5 84.75 256 84.97 255.5 84.63 255 84.09 254.5 84.19 254 83.8 253.5 83.76 253 83.79 252.5 83.2 252 83.2 251.5 83.06 251 83.17 250.5 83.1 250 83 249.5 83.02 249 82.71 248.5 82.38 248 82.59 247.5 82.35 247 82.41 246.5 81.85 246 81.69 245.5 81.07 245 80.94 244.5 81.33 244 80.89 243.5 81.11 243 80.97 242.5 80.89 242 80.77 241.5 80.52 241 80.33 240.5 80.29 240 79.85 239.5 80.03 239 79.62 238.5 79.81 238 79.2 237.5 79.33 237 79.26 236.5 78.87 236 78.76 235.5 78.52 235 78.63 234.5 78.47 234 78.14 233.5 77.82 233 77.94 232.5 77.68 232 77.75 231.5 77.06 231 77.37 230.5 77.5 230 77 229.5 76.85 229 77.52 228.5 76.5 228 76.61 227.5 76.21 227 76.08 226.5 76.35 226 76.2 225.5 75.94 225 75.54 224.5 75.72 224 75.53 223.5 75.12 223 75.16 222.5 74.96 222 74.86 221.5 74.27 221 74.52 220.5 74.39 220 74.06 219.5 74.09 219 74.11 218.5 73.85 218 73.78 217.5 73.56 217 73.76 216.5 73.37 216 72.83 215.5 72.96 215 72.68 214.5 72.58 214 72.11 213.5 71.73 213 72.3 212.5 72.1 212 72.16 211.5 71.86 211 71.59 210.5 71.58 210 70.85 209.5 70.81 209 71.21 208.5 70.41 208 70.77 207.5 70.11 207 69.8 206.5 69.72 206 69.28 205.5 69.6 205 69.59 204.5 68.92 204 68.61 203.5 69.07 203 68.81 202.5 68.45 202 68.73 201.5 68.28 201 68.33 200.5 67.64 200 67.64 199.5 67.59 199 67.31 198.5 67.27 198 67 197.5 67.49 197 66.93 196.5 66.64 196 66.27 195.5 65.97 195 66.01 194.5 66.13 194 66.12 193.5 65.45 193 65.29 192.5 65.33 192 65 191.5 64.8 191 64.63 190.5 64.18 190 64.23 189.5 64.23 189 63.96 188.5 63.64 188 63.63 187.5 63.07 187 63.15 186.5 62.97 186 63.26 185.5 62.76 185 62.86 184.5 62.58 184 61.96 183.5 61.82 183 61.52 182.5 61.59 182 61.43 181.5 61.27 181 60.93 180.5 60.62 180 60.63 179.5 60.44 179 60.21 178.5 59.98 178 60.21 177.5 59.83 177 59.37 176.5 59 176 59.03 175.5 59.16 175 58.76 174.5 58.4 174 58.19 173.5 58.39 173 58.08 172.5 57.72 172 57.81 171.5 57.04 171 57.44 170.5 57.05 170 56.77 169.5 56.33 169 56.44 168.5 56.37 168 55.94 167.5 55.47 167 55.66 166.5 55.39 166 55.05 165.5 54.84 165 54.69 164.5 54.64 164 54.34 163.5 53.84 163 53.79 162.5 53.95 162 53.73 161.5 53.41 161 53.19 160.5 53.67 160 52.89 159.5 52.56 159 52.46 158.5 52.17 158 52.35 157.5 51.53 157 51.52 156.5 51.69 156 51.53 155.5 51.61 155 50.89 154.5 50.53 154 50.52 153.5 49.82 153 49.86 152.5 49.79 152 49.22 151.5 49.59 151 49.41 150.5 48.82 150 48.72 149.5 48.34 149 48.38 148.5 47.64 148 47.51 147.5 47.77 147 47.84 146.5 47.35 146 47 145.5 46.97 145 46.57 144.5 46.33 144 46.04 143.5 45.6 143 45.86 142.5 45.38 142 45.29 141.5 44.83 141 44.85 140.5 44.37 140 44.23 139.5 44.06 139 44.09 138.5 43.59 138 43.36 137.5 43.27 137 42.95 136.5 42.26 136 42.6 135.5 42.12 135 41.79 134.5 41.37 134 41.68 133.5 41.25 133 40.45 132.5 41.01 132 39.99 131.5 39.97 131 39.71 130.5 40.26 130 39.82 129.5 39.6 129 39.48 128.5 39.04 128 38.64 127.5 38.35 127 38.28 126.5 38.23 126 37.69 125.5 37.3 125 37.3 124.5 37.05 124 36.44 123.5 36.73 123 36.33 122.5 35.75 122 36.13 121.5 35.41 121 35.41 120.5 34.83 120 35.05 119.5 34.62 119 34.23 118.5 33.92 118 33.76 117.5 33.45 117 33.84 116.5 32.76 116 32.74 115.5 32.79 115 32.41 114.5 32.23 114 31.86 113.5 31.56 113 31.82 112.5 30.78 112 30.73 111.5 30.29 111 30.39 110.5 30.31 110 30.11 109.5 29.73 109 29.41 108.5 29.56 108 29.22 107.5 29.19 107 28.13 106.5 27.89 106 28.2 105.5 27.5 105 26.96 104.5 27.14 104 26.9 103.5 26.64 103 26.44 102.5 26.24 102 25.71 101.5 26.03Z"/><path d="M101.5 23.49 102 25.3 102.5 25.4 103 23.81 103.5 24.23 104 24.3 104.5 25.66 105 25.19 105.5 26.39 106 24.22 106.5 27.9 107 26.16 107.5 27.33 108 26.63 108.5 26.68 109 27.82 109.5 28.52 110 27.58 110.5 27.87 111 29.11 111.5 27.75 112 27.44 112.5 29.49 113 28.66 113.5 27.81 114 29.02 114.5 29.57 115 29.17 115.5 29.15 116 30.76 116.5 32.13 117 30.99 117.5 30.78 118 32.2 118.5 32.88 119 31.9 119.5 33.14 120 34.06 120.5 32.71 121 32.39 121.5 33.85 122 33.96 122.5 35.36 123 32.9 123.5 33.72 124 33.79 124.5 33.18 125 35.23 125.5 36.02 126 34.82 126.5 37.7 127 37.15 127.5 37.12 128 37.04 128.5 38.06 129 35.64 129.5 38.05 130 38.27 130.5 35.9 131 38.37 131.5 37.85 132 39.47 132.5 38.12 133 38.77 133.5 39.52 134 38.37 134.5 40.36 135 39.6 135.5 40.67 136 39.63 136.5 42.02 137 41.53 137.5 40.66 138 42.02 138.5 43.2 139 44.24 139.5 40.11 140 43.32 140.5 42.9 141 42.32 141.5 41.58 142 44.81 142.5 41.75 143 44.18 143.5 45.56 144 42.04 144.5 43.64 145 42.78 145.5 44.79 146 47.02 146.5 48.06 147 43.12 147.5 44.64 148 46.62 148.5 48.25 149 46.6 149.5 45.31 150 46.83 150.5 46.54 151 46.55 151.5 46.17 152 47.83 152.5 47.92 153 47.52 153.5 47.58 154 46.6 154.5 47.71 155 50.46 155.5 48.46 156 47.25 156.5 51.31 157 50.18 157.5 53.02 158 49.81 158.5 49.39 159 48.46 159.5 52.55 160 54.86 160.5 49.79 161 50.19 161.5 52.15 162 50.38 162.5 51.23 163 51.33 163.5 52.27 164 54.02 164.5 52.38 165 54.12 165.5 52.25 166 53.5 166.5 50.62 167 51.62 167.5 54.91 168 53.02 168.5 54.93 169 55.06 169.5 56.62 170 55.92 170.5 56.48 171 54.75 171.5 54.24 172 54.39 172.5 54.87 173 54.29 173.5 55.18 174 55.92 174.5 56.67 175 56 175.5 54.26 176 56.7 176.5 57.38 177 59.11 177.5 58.38 178 56.74 178.5 56.83 179 61.53 179.5 59.46 180 61.59 180.5 62.32 181 57.63 181.5 59.52 182 59.84 182.5 60.21 183 60.36 183.5 59.92 184 60.05 184.5 58.03 185 59.88 185.5 59.33 186 60.68 186.5 60.03 187 61.95 187.5 62.5 188 61.73 188.5 61.92 189 61.68 189.5 61.11 190 61.65 190.5 61.4 191 62.94 191.5 62.41 192 63.65 192.5 61.02 193 64.58 193.5 62.09 194 62.29 194.5 63.16 195 62.85 195.5 64.31 196 63.18 196.5 62.7 197 63.16 197.5 66.95 198 64.68 198.5 63.24 199 64.95 199.5 63.06 200 68.74 200.5 63.42 201 66.53 201.5 66.83 202 64.01 202.5 66.68 203 68.21 203.5 67.34 204 67.1 204.5 68.62 205 67.23 205.5 67.74 206 67.07 206.5 68.65 207 66.29 207.5 69.29 208 67.2 208.5 66.57 209 68.93 209.5 71.74 210 70.45 210.5 67.98 211 70.24 211.5 68.38 212 68.99 212.5 69.49 213 66.29 213.5 70.01 214 68.37 214.5 68.98 215 68.06 215.5 68.15 216 69.1 216.5 72.24 217 74.12 217.5 70.83 218 73.26 218.5 70.81 219 68.65 219.5 71.79 220 72.55 220.5 71.18 221 72.56 221.5 73.27 222 71.02 222.5 70.3 223 72.23 223.5 72.39 224 72.34 224.5 75.05 225 76.75 225.5 72.69 226 74.9 226.5 75.56 227 75.23 227.5 76.09 228 73.47 228.5 75.74 229 78.61 229.5 76.17 230 73.72 230.5 76.05 231 77.59 231.5 75.84 232 74.37 232.5 78.64 233 73.66 233.5 76.71 234 75.75 234.5 74.17 235 78.69 235.5 76.95 236 74.63 236.5 77.79 237 75.99 237.5 73.96 238 75.89 238.5 77.63 239 78.58 239.5 77.7 240 77.57 240.5 78.64 241 77.44 241.5 80.48 242 78.36 242.5 78.82 243 79.51 243.5 76.86 244 77.52 244.5 82.12 245 79.61 245.5 78.58 246 79.9 246.5 78.55 247 80.04 247.5 78.54 248 80.31 248.5 77.42 249 82.95 249.5 79.32 250 77.82 250.5 80.03 251 79.94 251.5 80.99 252 79.01 252.5 81.81 253 89.27 253.5 79.2 254 82.08 254.5 80.97 255 82.02 255.5 78.9 256 80.06 256.5 83.03 257 82.05 257.5 86 258 81.28 258.5 82.91 259 89.36 259.5 81.57 260 81.48 260.5 82.98 261 83.1 261.5 85.26 262 83.73 262.5 82.36 263 84.18 263.5 89.98 264 86.92 264.5 79.65 265 83.98 265.5 82.94 266 85.92 266.5 84.31 267 89.27 267.5 87.04 268 87.08 268.5 85.54 269 85.16 269.5 86.16 270 88.56 270.5 86.88 271 85.17 271.5 88.9 272 86.45 272.5 85.99 273 84.95 273.5 85.44 274 85.45 274.5 82.05 275 89.19 275.5 88.23 276 86.64 276.5 89.64 277 88.3 277.5 88.26 278 83.41 278.5 87.23 279 89.03 279.5 91.78 280 92.47 280.5 91.58 281 86.3 281.5 84.69 282 89.87 282.5 88.66 283 91.08 283.5 88.62 284 89.5 284.5 86.56 285 90.3 285.5 88.57 286 90.31 286.5 90.7 287 89.48 287.5 90.59 288 89.9 288.5 91.93 289 91.41 289.5 89.35 290 89.4 290.5 94.88 291 90.46 291.5 93.24 292 91.86 292.5 90.03 293 89.83 293.5 91.53 294 91.99 294.5 93.02 295 89.4 295.5 90.67 296 91.65 296.5 96 297 87.97 297.5 93.28 298 91.34 298.5 93.5 299 91.66 299.5 93.56 300 96.75 300.5 93.77 301 94.09 301.5 94.05 302 91.89 302.5 94.72 303 93.07 303.5 92.12 304 93.6 304.5 93.38 305 95.85 305.5 93.93 306 93.18 306.5 98.02 307 96.92 307.5 97.77 308 96.16 308.5 94.49 309 94.05 309.5 94.41 310 97.51 310.5 95.43 311 92.59 311.5 95.29 312 92.93 312.5 96.02 313 93.53 313.5 93.53 314 96.23 314.5 95.88 315 93.14 315.5 98.24 316 102.12 316.5 93.78 317 101.44 317.5 95.44 318 95.9 318.5 96.58 319 94.38 319.5 100.61 320 98.56 320.5 95.97 321 96.95 321.5 94.78 322 97.03 322.5 100.31 323 94.73 323.5 97.19 324 98.5 324.5 101.06 325 101.99 325.5 97.58 326 97.17 326.5 99.87 327 98.08 327.5 98.28 328 101.92 328.5 103.7 329 99.91 329.5 98.93 330 100.96 330.5 95.97 331 99.57 331.5 97.72 332 106.42 332.5 101.92 333 100.42 333.5 99.77 334 95.5 334.5 102.33 335 104.98 335.5 99.18 336 102.57 336.5 102.78 337 97.93 337.5 103.59 338 104.87 338.5 101.83 339 101.17 339.5 103.61 340 98.55 340.5 101.86 341 104.68 341.5 99.42 342 104.72 342.5 101.21 343 98.11 343.5 102.02 344 100.45 344.5 103.33 345 100.26 345.5 105.62 346 101.3 346.5 103.86 347 101.79 347.5 102.42 348 106.56 348.5 103.86 349 102.58 349.5 101.01 350 106.89 350.5 105.76 351 103.12 351.5 104.56 352 101.94 352.5 102.07 353 102.54 353.5 105.28 354 105.22 354.5 103 355 106.7 355.5 106.94 356 105.27 356.5 107.89 357 104.4 357.5 104.84 358 106.55 358.5 105.2 359 107.69 359.5 102.98 360 109.74 360.5 104.11 361 105.44 361.5 103.12 362 107.73 362.5 109.81 363 109.31 363.5 108.71 364 103.24 364.5 104.89 365 105.63 365.5 104.78 366 110.07 366.5 107.4 367 106.9 367.5 108.5 368 105.23 368.5 105.41 369 105.57 369.5 108.92 370 108.56 370.5 109.36 371 110.95 371.5 105.08 372 106.8 372.5 108.47 373 105.39 373.5 107.14 374 111.36 374.5 111.72 375 111.75 375.5 108.74 376 108.28 376.5 112.05 377 108.14 377.5 110.02 378 113.09 378.5 108.44 379 108.04 379.5 109.37 380 111.29 380.5 111.04 381 110.15 381.5 111.46 382 106.57 382.5 108.19 383 110.56 383.5 108.24 384 107.48 384.5 107.85 385 108.54 385.5 110.17 386 108.51 386.5 111.45 387 116.02 387.5 110.62 388 114.93 388.5 112 389 108.87 389.5 110.77 390 109.35 390.5 113.86 391 109.17 391.5 115.76 392 113.56 392.5 107.63 393 114.39 393.5 116.87 394 110.49 394.5 115.31 395 108.56 395.5 113.22 396 109.03 396.5 114.13 397 108.94 397.5 107.25 398 114.15 398.5 120.14 399 111.84 399.5 115.79 400 113.64 400.5 112.7 401 115.41 401.5 118.72 402 111.03 402.5 115.53 403 114.94 403.5 110.91 404 119.12 404.5 120.27 405 112.19 405.5 119.8 406 114.6 406.5 114.16 407 119.36 407.5 115.42 408 115.82 408.5 119.69 409 119.06 409.5 117.91 410 112.14 410.5 111.86 411 118.93 411.5 113.44 412 116.01 412.5 113.3 413 115.33 413.5 113.04 414 121.12 414.5 113.79 415 115.83 415.5 115.78 416 120.15 416.5 113.28 417 116.4 417.5 116.11 418 118.36 418.5 118.27 419 115.83 419.5 117.71 420 116.21 420.5 118.63 421 116.99 421.5 115.86 422 117.34 422.5 118.67 423 124.93 423.5 116.59 424 118.76 424.5 122.61 425 113.36 425.5 114.19 426 115.51 426.5 117.98 427 126.28 427.5 119.69 428 122.45 428.5 118.11 429 113.21 429.5 113.64 430 122.21 430.5 119.58 431 116.17 431.5 122.82 432 115.81 432.5 123.07 433 124.2 433.5 117.81 434 117.13 434.5 122.49 435 117.34 435.5 122.74 436 117.3 436.5 122.74 437 120.48 437.5 119.28 438 118.33 438.5 121.23 439 116.26 439.5 120 440 119.82 440.5 123.06 441 118.06 441.5 126.7 442 120.37 442.5 118.59 443 125.89 443.5 126.91 444 121.02 444.5 119.51 445 121.68 445.5 120.15 446 121.1 446.5 127.14 447 123.31 447.5 122.57 448 123.34 448.5 122.13 449 125.19 449.5 125.41 450 121.69 450.5 122.99 451 130.88 451.5 124.24 452 122.48 452.5 129.94 453 123.12 453.5 120.64 454 125.56 454.5 121.28 455 122.3 455.5 124.65 456 123.34 456.5 121.95 457 122.53 457.5 122.52 458 127.99 458.5 122.4 459 122.84 459.5 131.26 460 123.06 460.5 129.57 461 129.07 461.5 124.27 462 121.38 462.5 126.37 463 127.22 463.5 128.33 464 125.32 464.5 129.34 465 130.08 465.5 122.86 466 130.4 466.5 126.13 467 124.28 467.5 124.95 468 132.34 468.5 129.32 469 121.72 469.5 126.36 470 125.82 470.5 125.83 471 125.11 471.5 122.95 472 129.54 472.5 124.36 473 125.81 473.5 125.34 474 125.13 474.5 129.58 475 128.4 475.5 125.52 476 124.95 476.5 126.19 477 130.83 477.5 127.94 478 128.41 478.5 126.88 479 127.14 479.5 128.62 480 123.48 480.5 133.78 481 126.21 481.5 126.83 482 133.08 482.5 129.18 483 128.63 483.5 127.14 484 124.84 484.5 129.41 485 133.13 485.5 126.72 486 133.91 486.5 126.33 487 127.38 487.5 131.1 488 129.36 488.5 131.95 489 127.71 489.5 127.09 490 125.11 490.5 126.83 491 127.23 491.5 126.45 492 131.19 492.5 128.51 493 125.32 493.5 139.39 494 128.35 494.5 127.39 495 135.13 495.5 134.95 496 127.91 496.5 127.19 497 128.45 497.5 135.18 498 130.35 498.5 129.19 499 131.23 499.5 135.82 500 127.99 500.5 130.6 501 128.18 501.5 139.77 502 138.55 502.5 135.44 503 131.67 503.5 134.53 504 126.87 504.5 133.29 505 128.97 505.5 129.09 506 130.74 506.5 131.73 507 134.84 507.5 135.4 508 133.86 508.5 130.56 509 135.58 509.5 132.83 510 137.65 510.5 130.97 511 126.34 511.5 132.27 512 141.67 512.5 135.42 513 133.25 513.5 137.16 514 135.82 514.5 135.75 515 132.77 515.5 134.47 516 135.03 516.5 132.69 517 131.55 517.5 135.05 518 138.29 518.5 137.16 519 136.66 519.5 136.79 520 144.81 520.5 136.03 521 139.11 521.5 142.7 522 135.5 522.5 136.4 523 139.47 523.5 142.03 524 136.85 524.5 137.13 525 136.17 525.5 132.75 526 140.29 526.5 135.41 527 131.65 527.5 135.87 528 131.8 528.5 133.78 529 136.59 529.5 134.18 530 140.84 530.5 132.9 531 137.89 531.5 139.12 532 142.72 532.5 140.72 533 138.13 533.5 137.62 534 137.23 534.5 141.92 535 135.81 535.5 139.69 536 137.48 536.5 138.77 537 137.2 537.5 146.37 538 136.31 538.5 139.16 539 139.34 539.5 140.73 540 140.2 540.5 140.18 541 142.47 541.5 134.63 542 138.81 542.5 135.52 543 139.86 543.5 135.82 544 136.5 544.5 139.01 545 144.82 545.5 141.66 546 140.63 546.5 145.11 547 137.04 547.5 134.02 548 138.62 548.5 139.1 549 144.89 549.5 148.59 550 136.49 550.5 150.13 551 146.56 551.5 143.74 552 141.94 552.5 150.28 553 140.95 553.5 139.4 554 141.36 554.5 137.12 555 142.87 555.5 140.73 556 142.47 556.5 142.67 557 138.38 557.5 146.7 558 138.66 558.5 145.14 559 137.24 559.5 143.23 560 139.53 560.5 142.06 561 140.16 561.5 136.01 562 139.04 562.5 142.5 563 144.84 563.5 138.31 564 136.57 564.5 140.12 565 142.04 565.5 140.95 566 140.54 566.5 146.36 567 146.92 567.5 146.09 568 140.51 568.5 143.53 569 142.75 569.5 139.39 570 147.09 570.5 143.91 571 142.26 571.5 149.54 572 146.94 572.5 147.4 573 148.9 573.5 147 574 140.57 574.5 143.1 575 148.43 575.5 142.2 576 144.61 576.5 146.18 577 150.58 577.5 150.08 578 148.5 578.5 144.32 579 148.74 579.5 147.22 580 144.64 580.5 150.83 581 147.33 581.5 143.2 582 150.7 582.5 144.78 583 148.07 583.5 141.34 584 145.69 584.5 143.14 585 143.14 585.5 140.56 586 155.04 586.5 145.72 587 147.24 587.5 150.96 588 146.04 588.5 148.63 589 142.67 589.5 147.47 590 145.53 590.5 148.91 591 147.65 591.5 142.99 592 141.73 592.5 144.21 593 150.31 593.5 149.08 594 149.07 594.5 141.64 595 139.79 595.5 145.8 596 146.72 596.5 146.02 597 149.34 597.5 147.42 598 144.57 598.5 145.53 599 148.77 599.5 148.55 600 148.1 600.5 158.04 601 147.71 601.5 149.07 602 145.74 602.5 147.67 603 151.03 603.5 151.29 604 148.49 604.5 150.71 605 149.34 605.5 143.71 606 139.73 606.5 159.24 607 152.98 607.5 149.33 608 144.51 608.5 145.93 609 155.56 609.5 141.67 610 148.95 610.5 153.71 611 150.67 611.5 153.39 612 149.83 612.5 160.61 613 147.36 613.5 146.45 614 151.72 614.5 156.79 615 150.52 615.5 155.31 616 149.28 616.5 147.43 617 157.07 617.5 157.89 618 157.82 618.5 149.95 619 147.91 619.5 147.94 620 150.81 620.5 154.09 621 153.85 621.5 147.46 622 152.64 622.5 151.95 623 152.34 623.5 151.96 624 151.51 624.5 154.78 625 152.82 625.5 153.33 626 150.36 626.5 154.23 627 152.21 627.5 146.34 628 154.86 628.5 152.02 629 156.96 629.5 152.48 630 152.76 630.5 154.05 631 153.16 631.5 151.94 632 147.98 632.5 161.56 633 148.77 633.5 152.56 634 156.55 634.5 155.42 635 156.33 635.5 157.3 636 159.57 636.5 155.37 637 167.02 637.5 151.15 638 155.29 638.5 153.27 639 152.79 639.5 155.79 640 161.08 640.5 152.52 641 152.59 641.5 158.05 642 157.33 642.5 163.71 643 159.64 643.5 156.16 644 154.21 644.5 156.25 645 154.83 645.5 151.28 646 155.55 646.5 155.06 647 154.96 647.5 154.43 648 163.41 648.5 159.03 649 160.19 649.5 154.19 650 153 650.5 155.34 651 157.38 651.5 155.3 652 155.85 652.5 160.84 653 157.93 653.5 153.64 654 155.42 654.5 154.79 655 157.7 655.5 153.37 656 156.49 656.5 160.25 657 157.32 657.5 154.45 658 155.44 658.5 157.98 659 159.68 659.5 161.37 660 157.19 660.5 153.64 661 164.28 661.5 159.22 662 159.79 662.5 159.41 663 154.88 663.5 157.18 664 159.42 664.5 163.03 665 158.67 665.5 148.77 666 157.79 666.5 160.23 667 164.62 667.5 162.02 668 170.25 668.5 165.45 669 165.17 669.5 163.39 670 154.82 670.5 163.11 671 162.04 671.5 157.72 672 162.14 672.5 161.44 673 158.13 673.5 159.27 674 158.91 674.5 160.87 675 158.55 675.5 162.47 676 154.01 676.5 159.22 677 154.88 677.5 158.73 678 162.72 678.5 160.5 679 160.13 679.5 160.87 680 167.9 680.5 157.21 681 164.89 681.5 156.07 682 159.44 682.5 161.75 683 158.37 683.5 162.09 684 164.6 684.5 157.5 685 161.11 685.5 160.23 686 155.35 686.5 160.98 687 159.12 687.5 167.97 688 159.01 688.5 169.81 689 160.24 689.5 171.08 690 164.61 690.5 164.28 691 166.01 691.5 166.53 692 168.96 692.5 170.58 693 161.41 693.5 158.6 694 154.13 694.5 161.5 695 166.39 695.5 164.66 696 163.5 696.5 161.9 697 161.05 697.5 162.26 698 165.08 698.5 157.65 699 166.83 699.5 158.77 700 163.02 700.5 161.56 701 162.48 701.5 160.37 702 160.09 702.5 163.14 703 160.45 703.5 175.68 704 162.74 704.5 162.04 705 162.45 705.5 160.83 706 156.43 706.5 163.61 707 165.98 707.5 159.71 708 164.67 708.5 160.8 709 164.68 709.5 166.56 710 167.24 710.5 167.07 711 162.79 711.5 169.34 712 163.76 712.5 166.95 713 168.72 713.5 164.43 714 161.31 714.5 168.49 715 161.99 715.5 162.8 716 162.18 716.5 169.88 717 165.38 717.5 158.64 718 169.58 718.5 176.08 719 174.85 719.5 164.41 720 166.69 720.5 168.84 721 170.77 721.5 166.7 722 163.02 722.5 170.31 723 169.71 723.5 162.45 724 165.68 724.5 168.24 725 167.02 725.5 169.62 726 171 726.5 169.84 727 166.92 727.5 162.92 728 170.41 728.5 174.3 729 177.16 729.5 167.54 730 167.6 730.5 174.8 731 174.84 731.5 169.56 732 171.44 732.5 165.53 733 170.95 733.5 165.45 734 167.78 734.5 167.92 735 166.84 735.5 161.45 736 165.79 736.5 170.21 737 168.47 737.5 167.43 738 170.89 738.5 172.23 739 173.08 739.5 166.32 740 169.16 740.5 168.03 741 166.28 741.5 164.27 742 169.02 742.5 166.49 743 180.05 743.5 169.22 744 168.86 744.5 168.35 745 178.97 745.5 166.66 746 169.34 746.5 167.37 747 169.6 747.5 169.97 748 175.56 748.5 165.46 749 170.22 749.5 178.33 750 168.71 750.5 169.89 751 167.57 751.5 161.79 752 170.34 752.5 176.57 753 169.24 753.5 164.65 754 172.26 754.5 171.39 755 176.04 755.5 175.66 756 170.31 756.5 173.26 757 165.26 757.5 176.95 758 172.39 758.5 176.95 759 176.9 759.5 170.71 760 171.25 760.5 168.84 761 164.85 761.5 171.5 762 172.76 762.5 168.38 763 175.69 763.5 172.68 764 174.53 764.5 169.72 765 166.38 765.5 176.36 766 175.59 766.5 172.23 767 171.23 767.5 171.79 768 172.34 768.5 171.13 769 166.03 769.5 176.94 770 167.93 770.5 171.99 771 172.14 771.5 174.56 772 167.77 772.5 179.48 773 176.76 773.5 177.41 774 180 774.5 170.91 775 162.9 775.5 175.47 776 180.52 776.5 179.83 777 172.14 777.5 173.75 778 175.58 778.5 167.93 779 171.95 779.5 172.12 780 182.47 780.5 172.2 781 182.55 781.5 174.66 782 168.83 782.5 186.08 783 171.41 783.5 178.03 784 183.68 784.5 173.13 785 170.76 785.5 180.47 786 175.52 786.5 170.96 787 171.53 787.5 174.01 788 180.4 788.5 174.5 789 178.94 789.5 184.15 790 182.24 790.5 183.18 791 182.18 791.5 170.23 792 182.27 792.5 177.71 793 175.63 793.5 172.31 794 170.6 794.5 172.34 795 176.25 795.5 172.24 796 173.56 796.5 174.33 797 180.04 797.5 175.59 798 176.18 798.5 183.66 799 175.68 799.5 180.01 800 173.2 800.5 178.73 801 177.69 801.5 178.05 802 175.54 802.5 173.59 803 176.25 803.5 175.72 804 182.85 804.5 182.26 805 173.28 805.5 180.92 806 175.98 806.5 180.16 807 176.09 807.5 172.61 808 183.28 808.5 180.37 809 173.67 809.5 171.35 810 176.27 810.5 174 811 177 811.5 181.64 812 186.18 812.5 177.2 813 185.82 813.5 184.76 814 177.1 814.5 172.73 815 183.31 815.5 182.08 816 191.39 816.5 186.56 817 183.19 817.5 188.07 818 175.38 818.5 180.26 819 178.3 819.5 188.62 820 182.42 820.5 168.39 821 186.84 821.5 176.31 822 183.82 822.5 177.99 823 181.11 823.5 183.26 824 180.97 824.5 176.51 825 187.54 825.5 182.25 826 180.1 826.5 184.03 827 178.33 827.5 190.48" fill="none" stroke="#8000FF" stroke-width="2.8" stroke-linejoin="round"/><path d="M73.3 200 73.6 186 76.2 162 78.4 137 80.9 99.5 83.3 64.6 85.5 38.7 87.6 23 89.2 17.8 90.6 15.9 92.5 15.3 94.5 15.9 96.5 17.4 98.5 19.3 100 20.5 101.5 23.49 102 25.3" fill="none" stroke="#8000FF" stroke-width="3.6" stroke-linejoin="round"/></g>
<path d="M54 203 L54 191.2 L56.5 191.6 L58.5 193.4 L59.6 196 L61.4 196.7 L63.2 195.2 L64.5 190.5 L66.1 191.6 L67.9 190.9 L69.4 185.4 L71.6 183.6 L73.5 183.6 L73.8 203Z" fill="#8000FF" clip-path="url(#c0)"/>
<g clip-path="url(#c1)" fill="#00FF00"><path d="M100 220.36 100.5 220.44 101 221.19 101.5 221.88 102 222.23 102.5 222.46 103 222.96 103.5 223.43 104 223.95 104.5 223.97 105 224.93 105.5 225.2 106 225.87 106.5 226 107 226.43 107.5 225.81 108 226.8 108.5 227.74 109 227.73 109.5 227.88 110 228.52 110.5 228.71 111 229.13 111.5 229.19 112 229.84 112.5 230.42 113 230.43 113.5 230.8 114 230.84 114.5 231.46 115 231.55 115.5 231.63 116 232.18 116.5 232.54 117 233.05 117.5 233.46 118 233.48 118.5 233.74 119 234.3 119.5 234.21 120 234.66 120.5 234.98 121 235.3 121.5 235.48 122 236.33 122.5 236.46 123 236.47 123.5 236.44 124 236.96 124.5 237.52 125 237.17 125.5 238.56 126 238.2 126.5 238.49 127 238.94 127.5 238.69 128 239.34 128.5 239.6 129 240.05 129.5 239.89 130 240.57 130.5 240.98 131 241.02 131.5 241.07 132 241.26 132.5 241.29 133 241.85 133.5 242.38 134 242.88 134.5 243.02 135 243.32 135.5 243.15 136 243.41 136.5 243.39 137 243.85 137.5 243.98 138 244.45 138.5 244.93 139 244.97 139.5 245.16 140 245.66 140.5 246.1 141 246.23 141.5 245.78 142 246.87 142.5 246.56 143 246.54 143.5 247.05 144 247.62 144.5 246.93 145 248.15 145.5 248.11 146 248.42 146.5 248.16 147 248.59 147.5 248.67 148 249.47 148.5 249.2 149 249.71 149.5 249.67 150 249.63 150.5 250.49 151 250.78 151.5 251.07 152 250.77 152.5 251.13 153 251.5 153.5 251.62 154 251.8 154.5 252.54 155 252.06 155.5 252.59 156 252.44 156.5 253.13 157 252.91 157.5 252.93 158 253.57 158.5 253.59 159 253.68 159.5 253.92 160 254.02 160.5 254.5 161 254.65 161.5 255.18 162 254.78 162.5 255.5 163 255.47 163.5 255.17 164 256.09 164.5 255.46 165 256.22 165.5 255.81 166 256.53 166.5 256.56 167 256.77 167.5 256.54 168 257.01 168.5 257.68 169 257.73 169.5 257.73 170 257.9 170.5 257.95 171 258.66 171.5 258.46 172 258.92 172.5 258.45 173 258.61 173.5 259.52 174 259.13 174.5 259.48 175 259.82 175.5 260.1 176 260.2 176.5 260.36 177 260.8 177.5 260.62 178 260.95 178.5 260.9 179 261.1 179.5 261.71 180 261.33 180.5 260.92 181 261.75 181.5 261.94 182 262.52 182.5 262.12 183 262.09 183.5 262.57 184 263.17 184.5 262.78 185 263.34 185.5 263.31 186 263.51 186.5 263.29 187 263.68 187.5 263.61 188 263.98 188.5 263.95 189 264.56 189.5 264.31 190 264.54 190.5 264.19 191 264.66 191.5 265.67 192 265.11 192.5 264.96 193 265.51 193.5 265.61 194 265.7 194.5 265.9 195 266.01 195.5 266.52 196 266.13 196.5 266.64 197 266.95 197.5 266.66 198 267.61 198.5 267.2 199 267.31 199.5 267.35 200 267.84 200.5 267.38 201 268.08 201.5 268.64 202 268.32 202.5 268.6 203 268.31 203.5 268.88 204 268.64 204.5 268.87 205 269.13 205.5 269.76 206 269.28 206.5 269.09 207 269.76 207.5 270.07 208 270.19 208.5 270.23 209 270.67 209.5 270.69 210 270.83 210.5 270.66 211 270.54 211.5 271.46 212 270.98 212.5 271.68 213 271.8 213.5 271.35 214 271.63 214.5 272.04 215 272.33 215.5 271.99 216 272.3 216.5 272.26 217 272.36 217.5 272.84 218 272.84 218.5 272.6 219 273.36 219.5 273.3 220 273.45 220.5 273.36 221 274.02 221.5 274.07 222 274.21 222.5 274.27 223 274.52 223.5 274.98 224 274.77 224.5 274.93 225 274.91 225.5 275.34 226 275.26 226.5 275.29 227 275.9 227.5 275.73 228 275.7 228.5 275.89 229 276.08 229.5 276.09 230 276.88 230.5 276.81 231 276.47 231.5 277.26 232 277.02 232.5 277.33 233 277.32 233.5 277.67 234 277.81 234.5 278.06 235 278.22 235.5 277.52 236 278.19 236.5 278.45 237 278.56 237.5 278.39 238 278.81 238.5 279.01 239 278.69 239.5 279.14 240 279.69 240.5 279.46 241 279.76 241.5 279.95 242 280.23 242.5 280.44 243 280.68 243.5 280.59 244 280.77 244.5 280.84 245 281.08 245.5 281.15 246 281.52 246.5 281.66 247 281.29 247.5 281.22 248 282.05 248.5 281.96 249 281.86 249.5 282.64 250 282.93 250.5 282.42 251 282.62 251.5 282.83 252 282.96 252.5 283.28 253 283.18 253.5 283.61 254 283.66 254.5 284.18 255 284.04 255.5 284.44 256 284.75 256.5 284.65 257 284.84 257.5 284.7 258 284.98 258.5 285.7 259 285.63 259.5 285.44 260 285.48 260.5 285.7 261 286.16 261.5 285.52 262 286.25 262.5 286.01 263 286.85 263.5 286.28 264 287.03 264.5 286.87 265 287.1 265.5 287.67 266 287.4 266.5 287.73 267 287.8 267.5 287.57 268 288 268.5 288.41 269 288.4 269.5 288.51 270 288.43 270.5 289.15 271 288.77 271.5 289.52 272 289.26 272.5 289.54 273 289.16 273.5 289.7 274 289.58 274.5 289.99 275 290.42 275.5 290.36 276 290.48 276.5 290.81 277 290.42 277.5 290.9 278 290.86 278.5 291.45 279 291.14 279.5 291.87 280 292.13 280.5 291.23 281 291.87 281.5 291.66 282 292.52 282.5 292.14 283 292.67 283.5 292.73 284 292.57 284.5 292.57 285 293.38 285.5 293.09 286 293.46 286.5 293.9 287 293.68 287.5 293.75 288 293.72 288.5 294.24 289 294.06 289.5 293.99 290 294.41 290.5 294.54 291 294.44 291.5 294.93 292 295.34 292.5 295.43 293 295.94 293.5 295.86 294 295.78 294.5 295.34 295 296.06 295.5 296.45 296 296.22 296.5 296.79 297 296.34 297.5 296.78 298 297.07 298.5 297.43 299 297.13 299.5 297.78 300 297.33 300.5 297.11 301 297.68 301.5 298.2 302 297.9 302.5 298.55 303 298.21 303.5 298.89 304 297.98 304.5 299.27 305 298.3 305.5 298.94 306 298.79 306.5 299.32 307 299.32 307.5 299.43 308 299.81 308.5 300.03 309 299.83 309.5 300.37 310 299.74 310.5 300.05 311 300.11 311.5 300.72 312 300.97 312.5 300.75 313 300.83 313.5 300.82 314 301.44 314.5 301.69 315 301.39 315.5 301.62 316 301.69 316.5 301.92 317 302.18 317.5 301.62 318 302.18 318.5 302.66 319 302.35 319.5 303.04 320 303.21 320.5 302.73 321 302.9 321.5 303.57 322 302.93 322.5 303.21 323 303.19 323.5 303.75 324 303.96 324.5 304.12 325 304.19 325.5 303.88 326 304.68 326.5 304.48 327 304.52 327.5 305.19 328 304.9 328.5 305.08 329 305.33 329.5 305.76 330 305.36 330.5 305.66 331 305 331.5 305.47 332 306.38 332.5 306.48 333 306.05 333.5 305.97 334 305.97 334.5 306.13 335 306.41 335.5 306.23 336 306.77 336.5 306.87 337 306.71 337.5 306.81 338 306.96 338.5 307.26 339 307.44 339.5 307.76 340 307.28 340.5 307.76 341 307.97 341.5 308.16 342 308.41 342.5 308.2 343 308.74 343.5 309.12 344 308.76 344.5 309.16 345 309.13 345.5 309.1 346 309.04 346.5 309.28 347 309.85 347.5 309.45 348 309.35 348.5 309.53 349 309.97 349.5 309.71 350 310.22 350.5 310.29 351 310.27 351.5 310.74 352 310.09 352.5 310.39 353 310.6 353.5 310.85 354 310.51 354.5 310.81 355 311.4 355.5 311.07 356 311.52 356.5 311.32 357 311.29 357.5 311.73 358 312.03 358.5 311.79 359 311.57 359.5 311.81 360 312 360.5 312.15 361 312.08 361.5 312.6 362 312.25 362.5 312.88 363 312.46 363.5 312.58 364 313.23 364.5 313.22 365 313.05 365.5 313.09 366 313.28 366.5 313.46 367 313.61 367.5 313.91 368 313.53 368.5 313.85 369 313.96 369.5 313.7 370 314.45 370.5 314.68 371 314.34 371.5 313.99 372 314.33 372.5 314.88 373 314.21 373.5 314.32 374 314.8 374.5 315.15 375 315.34 375.5 315.48 376 314.71 376.5 315.27 377 315.26 377.5 315.36 378 315.91 378.5 315.91 379 315.71 379.5 316.05 380 316.15 380.5 316.51 381 316.14 381.5 316.54 382 316.29 382.5 316.68 383 316.66 383.5 316.83 384 316.86 384.5 317.34 385 316.87 385.5 316.91 386 317.1 386.5 317.46 387 317.61 387.5 317.52 388 317.46 388.5 317.62 389 317.64 389.5 318.03 390 318 390.5 318.15 391 318.2 391.5 318.3 392 318.66 392.5 318.35 393 318.66 393.5 318.76 394 318.56 394.5 319.23 395 318.98 395.5 318.73 396 319.34 396.5 319.33 397 319.46 397.5 319.32 398 319.38 398.5 319.59 399 319.31 399.5 319.78 400 319.84 400.5 320.14 401 319.95 401.5 320.24 402 319.84 402.5 320.09 403 320.56 403.5 320.81 404 320.76 404.5 320.27 405 320.47 405.5 320.66 406 321.21 406.5 320.84 407 321.14 407.5 321.28 408 321.37 408.5 321.31 409 321.52 409.5 321.74 410 321.66 410.5 321.7 411 321.99 411.5 322.26 412 322.58 412.5 321.79 413 322.22 413.5 322.27 414 322.06 414.5 322.35 415 322.34 415.5 322.36 416 322.54 416.5 322.93 417 322.61 417.5 322.82 418 323 418.5 322.88 419 322.91 419.5 322.91 420 323.2 420.5 323.82 421 323.15 421.5 323.86 422 323.51 422.5 323.59 423 324.1 423.5 324.14 424 324.25 424.5 324.18 425 324.48 425.5 324.2 426 324.53 426.5 324.76 427 324.61 427.5 324.49 428 325.2 428.5 324.83 429 324.73 429.5 325.21 430 325.46 430.5 325.37 431 325.03 431.5 325.42 432 325.57 432.5 325.74 433 325.32 433.5 325.45 434 325.89 434.5 325.94 435 326.13 435.5 326.39 436 325.86 436.5 326.01 437 326.23 437.5 326.83 438 326.49 438.5 326.87 439 326.13 439.5 326.86 440 327.12 440.5 327.33 441 326.89 441.5 327.65 442 327.04 442.5 327.69 443 327.84 443.5 327.49 444 327.27 444.5 328.23 445 327.87 445.5 327.56 446 328.07 446.5 327.77 447 328.16 447.5 327.93 448 327.73 448.5 328.54 449 328.29 449.5 328.51 450 328.66 450.5 328.67 451 328.63 451.5 328.98 452 329.12 452.5 329.12 453 329.06 453.5 329.24 454 329.69 454.5 329.71 455 329.44 455.5 329.74 456 329.82 456.5 329.91 457 329.86 457.5 330.06 458 329.94 458.5 330.28 459 330.33 459.5 330.45 460 330.53 460.5 330.59 461 330.35 461.5 330.34 462 330.75 462.5 330.7 463 331.06 463.5 330.81 464 330.93 464.5 330.8 465 331.19 465.5 331.2 466 331.67 466.5 331.49 467 331.9 467.5 331.45 468 331.33 468.5 332.08 469 332.02 469.5 332.37 470 331.9 470.5 331.73 471 332.63 471.5 332.4 472 332.27 472.5 333.03 473 332.6 473.5 332.48 474 332.86 474.5 332.72 475 332.73 475.5 333.12 476 333.11 476.5 333.14 477 333.25 477.5 333.02 478 333.62 478.5 333.99 479 333.68 479.5 334.01 480 334.26 480.5 333.81 481 333.78 481.5 333.79 482 333.99 482.5 334.39 483 334.24 483.5 334.65 484 334.29 484.5 334.93 485 334.53 485.5 334.67 486 334.8 486.5 334.81 487 334.92 487.5 335.17 488 335.08 488.5 335.3 489 335.08 489.5 335.17 490 335.1 490.5 335.7 491 335.4 491.5 335.8 492 335.8 492.5 335.89 493 335.88 493.5 336.16 494 336.22 494.5 336.59 495 336.22 495.5 336.26 496 336.14 496.5 337.05 497 336.43 497.5 336.89 498 336.96 498.5 336.55 499 336.78 499.5 337.2 500 337.1 500.5 336.86 501 337.29 501.5 337.71 502 337.51 502.5 337.64 503 337.9 503.5 338.2 504 337.76 504.5 337.68 505 337.9 505.5 337.88 506 337.74 506.5 338.12 507 338 507.5 338.63 508 338.37 508.5 337.84 509 338.31 509.5 338.73 510 338.57 510.5 338.6 511 338.74 511.5 338.75 512 339.18 512.5 339 513 338.97 513.5 339.48 514 339.06 514.5 339.49 515 339.27 515.5 339.49 516 339.55 516.5 339.48 517 339.69 517.5 340.28 518 339.72 518.5 340.57 519 340.36 519.5 340.63 520 340.2 520.5 340.67 521 340.53 521.5 341.07 522 340.54 522.5 341.04 523 340.66 523.5 341.24 524 340.88 524.5 340.77 525 340.79 525.5 341.07 526 341.67 526.5 341.04 527 341.26 527.5 341.5 528 341.62 528.5 341.75 529 342.17 529.5 341.8 530 341.57 530.5 342.2 531 341.99 531.5 342.12 532 342.29 532.5 342.73 533 342.72 533.5 342.51 534 342.49 534.5 342.77 535 342.55 535.5 342.38 536 342.73 536.5 343.22 537 342.89 537.5 343.01 538 343.58 538.5 343.66 539 343.75 539.5 343.27 540 343.66 540.5 343.96 541 343.96 541.5 343.68 542 343.8 542.5 343.75 543 343.88 543.5 344.19 544 344.27 544.5 344.04 545 344.5 545.5 344.46 546 344.81 546.5 344.44 547 344.7 547.5 344.17 548 345 548.5 345.03 549 345.18 549.5 345.05 550 345.13 550.5 345.19 551 345.59 551.5 345.12 552 345.42 552.5 345.67 553 345.51 553.5 345.45 554 345.68 554.5 345.91 555 346.31 555.5 345.86 556 345.53 556.5 346.4 557 346.23 557.5 346.45 558 346.36 558.5 346.45 559 346.06 559.5 346.75 560 346.42 560.5 346.93 561 346.37 561.5 347.21 562 346.95 562.5 346.5 563 347.18 563.5 347.25 564 347.33 564.5 347.1 565 348.01 565.5 347.41 566 347.86 566.5 347.07 567 347.91 567.5 347.96 568 347.91 568.5 348.3 569 347.92 569.5 348.26 570 348.21 570.5 348.37 571 348.14 571.5 348.62 572 348.67 572.5 348.68 573 348.76 573.5 348.67 574 348.69 574.5 348.86 575 349.09 575.5 348.77 576 349.13 576.5 349.61 577 349.48 577.5 349.15 578 349.76 578.5 349.12 579 349.56 579.5 349.96 580 349.93 580.5 349.93 581 349.66 581.5 349.59 582 350.2 582.5 350.22 583 350.64 583.5 350.15 584 350.1 584.5 350.31 585 350.07 585.5 350.5 586 350.65 586.5 350.7 587 351.26 587.5 351.35 588 350.89 588.5 350.91 589 351.44 589.5 351.46 590 350.97 590.5 351.17 591 351.23 591.5 351.18 592 351.43 592.5 351.34 593 351.91 593.5 351.92 594 351.45 594.5 351.79 595 351.88 595.5 352.45 596 352.02 596.5 352.47 597 352.73 597.5 352.18 598 352.61 598.5 352.58 599 352.85 599.5 352.36 600 352.69 600.5 352.44 601 353.11 601.5 352.51 602 353.09 602.5 352.76 603 353.04 603.5 353.09 604 353.39 604.5 353.58 605 353.81 605.5 353.94 606 353.68 606.5 353.47 607 354.13 607.5 353.59 608 353.97 608.5 353.87 609 353.96 609.5 354.24 610 353.98 610.5 354.31 611 354.39 611.5 354.75 612 354.84 612.5 354.83 613 354.72 613.5 355.21 614 355.1 614.5 354.61 615 355.08 615.5 355.19 616 354.94 616.5 355.28 617 355.22 617.5 355.14 618 355.46 618.5 355.36 619 355.28 619.5 355.66 620 355.27 620.5 356.09 621 355.79 621.5 355.97 622 356.26 622.5 356.33 623 356.09 623.5 356.32 624 356.56 624.5 356.74 625 356.26 625.5 356.61 626 356.33 626.5 356.45 627 356.72 627.5 356.76 628 356.61 628.5 356.73 629 357.01 629.5 356.74 630 357.21 630.5 356.94 631 357.66 631.5 357.43 632 357.64 632.5 357.43 633 357.87 633.5 357.8 634 357.93 634.5 357.84 635 358.04 635.5 357.93 636 358.18 636.5 358.02 637 358.09 637.5 358.28 638 358.34 638.5 358.37 639 358.26 639.5 358.46 640 358.83 640.5 358.7 641 358.82 641.5 358.68 642 359.23 642.5 358.9 643 359.16 643.5 359.09 644 359.46 644.5 358.84 645 358.78 645.5 359.28 646 358.81 646.5 359.31 647 359.39 647.5 359.58 648 359.88 648.5 359.45 649 359.99 649.5 360.24 650 360.4 650.5 359.79 651 360.05 651.5 360.69 652 360.03 652.5 360.64 653 360.52 653.5 360.64 654 360.15 654.5 360.28 655 360.48 655.5 360.93 656 361.05 656.5 360.71 657 361.06 657.5 361.09 658 360.88 658.5 360.91 659 360.77 659.5 361.04 660 361.18 660.5 361.77 661 361.74 661.5 361.54 662 361.74 662.5 361.51 663 361.21 663.5 361.93 664 362.07 664.5 361.8 665 362.37 665.5 362.4 666 362.41 666.5 361.8 667 362.35 667.5 362.57 668 362.26 668.5 362.42 669 362.83 669.5 363.2 670 362.96 670.5 362.89 671 362.77 671.5 362.69 672 362.82 672.5 363.2 673 363.05 673.5 363.58 674 362.97 674.5 363.09 675 363.43 675.5 363.57 676 363.61 676.5 363.38 677 363.54 677.5 364.03 678 363.77 678.5 363.81 679 364.16 679.5 364.17 680 364.14 680.5 364.63 681 363.93 681.5 364.43 682 364.26 682.5 364.72 683 364.3 683.5 364.77 684 364.57 684.5 365.38 685 364.87 685.5 365.43 686 364.77 686.5 364.86 687 365.17 687.5 364.71 688 364.97 688.5 365.65 689 365.62 689.5 365.35 690 365.76 690.5 365.66 691 365.73 691.5 365.43 692 365.98 692.5 365.66 693 366.25 693.5 365.68 694 366.63 694.5 365.91 695 365.8 695.5 365.92 696 366.37 696.5 366.41 697 366.23 697.5 366.66 698 367.02 698.5 366.63 699 366.86 699.5 366.95 700 367.01 700.5 366.43 701 367.31 701.5 366.99 702 367.1 702.5 367.43 703 366.53 703.5 367.47 704 367.4 704.5 367.81 705 367.55 705.5 367.87 706 367.86 706.5 367.36 707 367.71 707.5 367.6 708 367.83 708.5 367.69 709 367.6 709.5 368.01 710 368.02 710.5 368.29 711 368.65 711.5 368.2 712 368.3 712.5 368.73 713 368.73 713.5 368.15 714 368.61 714.5 368.29 715 368.52 715.5 368.67 716 368.82 716.5 368.84 717 369.03 717.5 369.12 718 369.5 718.5 369.37 719 368.97 719.5 369.64 720 369.44 720.5 369.13 721 369.24 721.5 369.56 722 369.64 722.5 369.76 723 369.36 723.5 369.72 724 370.38 724.5 369.49 725 369.65 725.5 370.06 726 370.19 726.5 370.03 727 370.27 727.5 370.27 728 370.15 728.5 370.41 729 370.41 729.5 370.64 730 370.78 730.5 370.45 731 370.71 731.5 370.53 732 370.77 732.5 370.95 733 371.16 733.5 370.85 734 371.26 734.5 371.15 735 371.17 735.5 371.24 736 371.21 736.5 371.51 737 371.17 737.5 371.65 738 371.47 738.5 372.03 739 371.6 739.5 371.86 740 372.03 740.5 372.1 741 372.36 741.5 372.44 742 372.06 742.5 372.05 743 372.58 743.5 372.39 744 372.33 744.5 372.42 745 372.69 745.5 372.74 746 372.07 746.5 372.47 747 372.59 747.5 372.53 748 373.13 748.5 373.21 749 372.94 749.5 373.39 750 373.02 750.5 373.5 751 373.42 751.5 373.34 752 373.48 752.5 373.29 753 373.76 753.5 373.45 754 373.74 754.5 373.46 755 373.53 755.5 373.82 756 373.88 756.5 374.23 757 373.92 757.5 374.11 758 374.18 758.5 374.64 759 374.24 759.5 373.98 760 373.95 760.5 374.27 761 374.44 761.5 374.19 762 374.24 762.5 374.35 763 374.63 763.5 374.85 764 374.58 764.5 374.61 765 375.18 765.5 375.36 766 375.12 766.5 374.9 767 374.96 767.5 375.33 768 374.79 768.5 374.88 769 375.56 769.5 375.03 770 375.25 770.5 376.01 771 375.44 771.5 375.95 772 375.61 772.5 375.47 773 375.9 773.5 375.83 774 376.12 774.5 375.61 775 376.16 775.5 376.15 776 376.35 776.5 376.28 777 376.03 777.5 376.66 778 376.62 778.5 376.68 779 376.66 779.5 376.66 780 376.48 780.5 376.24 781 376.35 781.5 376.76 782 376.29 782.5 376.75 783 377.17 783.5 376.79 784 377.55 784.5 376.72 785 377.36 785.5 376.76 786 377.39 786.5 377.77 787 377.34 787.5 377.16 788 377.25 788.5 377.75 789 377.85 789.5 377.8 790 377.63 790.5 377.54 791 377.66 791.5 377.66 792 377.58 792.5 378.3 793 378.4 793.5 378.47 794 378.63 794.5 378.09 795 377.85 795.5 378.42 796 378.35 796.5 378.2 797 378.64 797.5 378.47 798 378.81 798.5 378.8 799 378.54 799.5 378.81 800 378.73 800.5 379 801 378.95 801.5 378.78 802 379.19 802.5 379.08 803 379.15 803.5 379.27 804 379.85 804.5 379.45 805 379.36 805.5 379.31 806 379.11 806.5 379.57 807 379.64 807.5 379.55 808 379.92 808.5 379.9 809 380.02 809.5 379.85 810 380.34 810.5 380.17 811 379.92 811.5 380.13 812 380.43 812.5 380.08 813 380.61 813.5 380.25 814 379.95 814.5 380.64 815 380.39 815.5 380.58 816 380.58 816.5 380.94 817 380.73 817.5 380.99 818 380.62 818.5 380.9 819 380.79 819.5 380.99 820 381.58 820.5 380.91 821 381.24 821.5 381.12 822 381.36 822.5 381.1 823 381.22 823.5 380.99 824 381.77 824.5 381.53 825 381.63 825.5 381.3 826 382.04 826.5 382 827 381.69 827.5 381.9 L827.5 389.96 827 389.93 826.5 389.75 826 389.99 825.5 389.51 825 389.62 824.5 389.91 824 390.05 823.5 389.61 823 389.57 822.5 389.58 822 389.24 821.5 389.47 821 389.36 820.5 389.4 820 389.63 819.5 388.82 819 389.19 818.5 389.07 818 389.11 817.5 388.83 817 388.68 816.5 388.75 816 388.83 815.5 388.32 815 388.45 814.5 388.6 814 388.87 813.5 389.07 813 388.04 812.5 388.26 812 388.65 811.5 388.64 811 388.28 810.5 388.6 810 388.41 809.5 388.23 809 388.27 808.5 387.78 808 387.01 807.5 388.07 807 387.56 806.5 387.04 806 387.23 805.5 387.31 805 386.94 804.5 387.2 804 387.27 803.5 386.9 803 386.99 802.5 386.77 802 387.03 801.5 386.84 801 386.83 800.5 387.38 800 386.78 799.5 386.7 799 386.73 798.5 386.28 798 386.7 797.5 386.56 797 386.69 796.5 386.28 796 386.1 795.5 386.37 795 386.56 794.5 386.07 794 385.74 793.5 386.06 793 385.87 792.5 385.99 792 385.59 791.5 385.74 791 386.06 790.5 385.56 790 385.58 789.5 385.8 789 385.94 788.5 385.87 788 385.73 787.5 385.6 787 385.37 786.5 385.32 786 385.33 785.5 385.15 785 384.84 784.5 385.28 784 384.9 783.5 384.67 783 385.02 782.5 384.73 782 384.39 781.5 384.82 781 385.07 780.5 384.6 780 383.88 779.5 384.8 779 384 778.5 383.92 778 384.12 777.5 384.2 777 384.3 776.5 384.5 776 384.33 775.5 383.66 775 383.31 774.5 383.74 774 383.93 773.5 383.38 773 383.65 772.5 383.49 772 383.38 771.5 383.16 771 383.52 770.5 383.33 770 382.69 769.5 383.2 769 383.56 768.5 382.71 768 383.18 767.5 382.81 767 383.1 766.5 383.3 766 383.02 765.5 382.79 765 382.45 764.5 382.26 764 382.14 763.5 383.03 763 382.11 762.5 382.45 762 382.36 761.5 382.15 761 382.56 760.5 382.21 760 382.13 759.5 382.33 759 382.14 758.5 382.23 758 381.74 757.5 381.62 757 381.71 756.5 381.74 756 381.49 755.5 381.5 755 381.15 754.5 381.49 754 381.31 753.5 380.79 753 381.02 752.5 381.24 752 381.33 751.5 380.74 751 380.76 750.5 380.45 750 380.81 749.5 380.64 749 380.72 748.5 380.59 748 380.58 747.5 379.76 747 380.49 746.5 380.27 746 380.24 745.5 379.88 745 380.1 744.5 380.19 744 379.99 743.5 380.02 743 380.44 742.5 380.03 742 379.8 741.5 379.51 741 379.77 740.5 379.59 740 379.46 739.5 379.73 739 379.12 738.5 379.24 738 379.13 737.5 379.34 737 378.97 736.5 378.95 736 378.83 735.5 378.92 735 378.92 734.5 378.79 734 378.93 733.5 378.34 733 378.7 732.5 378.77 732 378.6 731.5 378.91 731 378.4 730.5 378.32 730 378.4 729.5 378.34 729 378.2 728.5 377.78 728 378.1 727.5 378.18 727 377.66 726.5 377.98 726 377.45 725.5 377.67 725 377.73 724.5 377.69 724 377.1 723.5 377.57 723 377.14 722.5 377.31 722 376.98 721.5 376.91 721 377.11 720.5 376.82 720 376.76 719.5 376.96 719 376.45 718.5 376.77 718 376.82 717.5 376.89 717 376.54 716.5 376.15 716 376.19 715.5 376.19 715 375.63 714.5 376.39 714 375.82 713.5 376.17 713 376.2 712.5 375.86 712 376 711.5 375.65 711 375.62 710.5 375.67 710 375.49 709.5 375.86 709 375.53 708.5 375.75 708 375.45 707.5 374.61 707 375.5 706.5 375.32 706 374.99 705.5 374.56 705 375.01 704.5 375 704 374.73 703.5 374.75 703 374.75 702.5 374.82 702 374.06 701.5 374.18 701 374.31 700.5 374.48 700 374.15 699.5 373.75 699 374.34 698.5 373.8 698 373.87 697.5 373.68 697 374.02 696.5 373.42 696 373.38 695.5 373.49 695 373.04 694.5 373.57 694 373.67 693.5 372.86 693 373.34 692.5 373.53 692 373.4 691.5 373.17 691 373.08 690.5 373.28 690 372.59 689.5 372.56 689 372.63 688.5 372.31 688 372.52 687.5 372.16 687 372.69 686.5 372.95 686 372.33 685.5 372.37 685 372.04 684.5 372.36 684 372.12 683.5 371.66 683 372.37 682.5 371.7 682 371.34 681.5 371.32 681 371.66 680.5 371.64 680 371.5 679.5 371.62 679 371.39 678.5 371.56 678 370.93 677.5 371.24 677 371.05 676.5 370.91 676 370.87 675.5 371.16 675 370.68 674.5 371 674 370.67 673.5 370.69 673 370.15 672.5 370.42 672 370.41 671.5 370.02 671 370.14 670.5 370.25 670 369.6 669.5 369.87 669 370.2 668.5 370.21 668 369.72 667.5 369.68 667 369.98 666.5 369.45 666 369.4 665.5 369.29 665 369.79 664.5 369.1 664 369.11 663.5 368.8 663 369.02 662.5 368.49 662 368.74 661.5 368.96 661 368.65 660.5 368.98 660 368.37 659.5 368.63 659 368.13 658.5 368.35 658 368.28 657.5 368.34 657 368 656.5 368.22 656 368.22 655.5 367.87 655 367.96 654.5 367.84 654 367.53 653.5 367.25 653 367.21 652.5 367.37 652 367.1 651.5 367.77 651 367.44 650.5 367.01 650 367.26 649.5 367.15 649 366.93 648.5 366.56 648 367.02 647.5 367.06 647 367.02 646.5 366.27 646 366.53 645.5 366.44 645 366.39 644.5 366.72 644 366.53 643.5 366.52 643 365.87 642.5 365.91 642 366.05 641.5 366.01 641 365.14 640.5 366.18 640 365.41 639.5 365.5 639 365.9 638.5 365.22 638 365.49 637.5 365.42 637 365.34 636.5 364.44 636 364.98 635.5 365.19 635 364.89 634.5 364.76 634 364.82 633.5 364.36 633 364.83 632.5 364.53 632 364.34 631.5 364.27 631 364.24 630.5 364.04 630 364.11 629.5 364.7 629 363.91 628.5 363.83 628 363.65 627.5 363.97 627 363.14 626.5 363.6 626 363.45 625.5 363.36 625 363.6 624.5 363.07 624 363.28 623.5 363 623 363.37 622.5 362.98 622 362.91 621.5 362.75 621 362.16 620.5 362.55 620 362.38 619.5 361.94 619 361.99 618.5 362.37 618 362.51 617.5 362.43 617 361.88 616.5 362.22 616 361.89 615.5 361.81 615 362.48 614.5 361.86 614 361.59 613.5 362.04 613 361.25 612.5 361.89 612 361.13 611.5 361.32 611 360.66 610.5 361.12 610 361.24 609.5 360.87 609 361.52 608.5 360.61 608 360.42 607.5 361.27 607 360.19 606.5 360.64 606 360.09 605.5 360.58 605 360.26 604.5 360.05 604 360.46 603.5 359.84 603 360.01 602.5 359.37 602 359.43 601.5 359.58 601 359.51 600.5 359.79 600 360.06 599.5 359.14 599 359.35 598.5 359.56 598 359.03 597.5 358.92 597 359.09 596.5 359.39 596 359.05 595.5 358.61 595 358.48 594.5 358.62 594 358 593.5 358.32 593 358.27 592.5 358.12 592 357.96 591.5 358.3 591 357.7 590.5 357.94 590 358.04 589.5 358.06 589 357.68 588.5 357.79 588 357.66 587.5 357.46 587 357.17 586.5 356.92 586 357.45 585.5 356.55 585 357.2 584.5 357.34 584 356.93 583.5 356.89 583 357.06 582.5 356.53 582 356.71 581.5 356.74 581 356.56 580.5 356.21 580 356.27 579.5 356.13 579 356.09 578.5 356.6 578 355.79 577.5 355.92 577 355.47 576.5 355.75 576 356.14 575.5 355.06 575 355.84 574.5 355.55 574 355.34 573.5 355.2 573 355.52 572.5 355.38 572 355.14 571.5 355.26 571 354.65 570.5 355.04 570 354.86 569.5 354.51 569 354.51 568.5 354.59 568 354.22 567.5 354.47 567 353.99 566.5 354.16 566 353.97 565.5 354.44 565 353.78 564.5 353.67 564 353.82 563.5 353.72 563 353.89 562.5 353.61 562 353.31 561.5 353.5 561 353.02 560.5 353.53 560 352.95 559.5 352.91 559 352.78 558.5 352.78 558 353.06 557.5 353.41 557 352.61 556.5 352.17 556 352.14 555.5 352.48 555 352.41 554.5 352.51 554 352.41 553.5 352.12 553 351.58 552.5 351.45 552 351.83 551.5 351.82 551 351.59 550.5 351.5 550 351.33 549.5 351.16 549 351.61 548.5 351.45 548 351.2 547.5 350.96 547 350.99 546.5 350.72 546 350.57 545.5 350.64 545 350.6 544.5 350.45 544 350.27 543.5 350.58 543 349.97 542.5 350.13 542 350.34 541.5 350.12 541 349.78 540.5 349.85 540 349.83 539.5 349.83 539 349.37 538.5 349.65 538 349.63 537.5 349.8 537 349.72 536.5 349.32 536 349.08 535.5 349.45 535 348.46 534.5 349.22 534 348.82 533.5 348.7 533 348.81 532.5 348.61 532 348.74 531.5 348.53 531 348.55 530.5 347.78 530 348.8 529.5 348.14 529 348.15 528.5 347.62 528 347.83 527.5 347.64 527 348.23 526.5 347.77 526 347.36 525.5 347.52 525 347.73 524.5 347.26 524 347.56 523.5 346.87 523 346.89 522.5 347.2 522 346.84 521.5 346.77 521 346.67 520.5 346.61 520 346.56 519.5 346.4 519 346.44 518.5 346.61 518 346.28 517.5 346.09 517 346.12 516.5 346 516 345.53 515.5 346.27 515 344.91 514.5 345.88 514 345.84 513.5 345.26 513 345.48 512.5 344.92 512 345.17 511.5 345.28 511 345.14 510.5 344.91 510 345.23 509.5 344.67 509 344.6 508.5 344.87 508 344.2 507.5 344.37 507 344.25 506.5 344.33 506 343.87 505.5 343.63 505 344.22 504.5 343.08 504 344.01 503.5 343.84 503 343.16 502.5 343.29 502 343.55 501.5 343.23 501 343.39 500.5 343.39 500 343.45 499.5 343.05 499 342.95 498.5 342.67 498 342.64 497.5 342.52 497 342.61 496.5 342.67 496 342.38 495.5 342.16 495 342.32 494.5 341.88 494 341.93 493.5 341.54 493 341.62 492.5 341.48 492 341.9 491.5 341.49 491 341.53 490.5 341.47 490 341.44 489.5 341.63 489 341.11 488.5 341.03 488 341.29 487.5 341.28 487 340.62 486.5 340.73 486 341.19 485.5 340.64 485 340.52 484.5 340.46 484 340.38 483.5 340.25 483 340.54 482.5 339.83 482 340.06 481.5 339.74 481 339.53 480.5 340.07 480 339.29 479.5 339.6 479 339.22 478.5 339.38 478 339.74 477.5 339.06 477 339.1 476.5 339.02 476 339.23 475.5 338.73 475 339.21 474.5 338.53 474 338.5 473.5 338.45 473 337.71 472.5 338.54 472 338.67 471.5 338.24 471 338.36 470.5 337.71 470 337.65 469.5 337.75 469 337.42 468.5 337.98 468 337.69 467.5 337.68 467 337.79 466.5 337.42 466 337.37 465.5 337.29 465 337.17 464.5 336.62 464 337.19 463.5 336.5 463 336.86 462.5 336.75 462 336.67 461.5 336.31 461 336.6 460.5 336.38 460 335.55 459.5 336.29 459 336.17 458.5 335.99 458 335.77 457.5 335.82 457 335.22 456.5 335.61 456 335.16 455.5 335.15 455 334.98 454.5 335.43 454 335.12 453.5 335.27 453 334.77 452.5 334.66 452 334.98 451.5 334.65 451 334.36 450.5 334.4 450 334.39 449.5 334.54 449 334.19 448.5 334.06 448 334.03 447.5 333.89 447 334.17 446.5 333.43 446 333.37 445.5 333.63 445 333.4 444.5 333.37 444 333.33 443.5 333.59 443 333 442.5 332.75 442 333.21 441.5 332.57 441 332.87 440.5 332.39 440 332.59 439.5 332.2 439 332.61 438.5 332.13 438 331.5 437.5 331.69 437 331.88 436.5 331.96 436 331.93 435.5 331.41 435 331.62 434.5 331.27 434 331.69 433.5 331.18 433 331.58 432.5 331.05 432 331.02 431.5 331.02 431 331.15 430.5 331.25 430 330.72 429.5 330.72 429 330.48 428.5 330.36 428 330.25 427.5 329.8 427 330.2 426.5 329.93 426 330.19 425.5 330.16 425 329.98 424.5 329.8 424 329.9 423.5 329.18 423 329.36 422.5 328.86 422 329.34 421.5 329.09 421 329.06 420.5 328.73 420 328.98 419.5 328.31 419 329.14 418.5 328.87 418 329.04 417.5 328.4 417 328.75 416.5 328.97 416 328.06 415.5 328.19 415 327.93 414.5 328.21 414 327.33 413.5 327.57 413 327.69 412.5 327.14 412 327.58 411.5 327.12 411 327.43 410.5 327.37 410 327.03 409.5 326.68 409 327.09 408.5 326.46 408 326.44 407.5 326.75 407 326.84 406.5 326.11 406 325.93 405.5 326.17 405 326.52 404.5 325.98 404 325.9 403.5 325.62 403 325.83 402.5 326.07 402 325.69 401.5 325.45 401 325.55 400.5 325.44 400 325.01 399.5 324.83 399 325.17 398.5 324.45 398 325.13 397.5 324.76 397 324.53 396.5 324.57 396 324.57 395.5 324.88 395 324.03 394.5 324.37 394 324.31 393.5 324.35 393 323.85 392.5 324.01 392 323.4 391.5 323.67 391 323.56 390.5 323.52 390 323.1 389.5 323.28 389 323.28 388.5 322.75 388 323.26 387.5 322.54 387 323.03 386.5 323.07 386 321.93 385.5 322.5 385 322.59 384.5 322.15 384 321.9 383.5 321.97 383 321.9 382.5 321.54 382 321.68 381.5 321.69 381 321.99 380.5 321.7 380 321.16 379.5 321.02 379 321.42 378.5 320.74 378 321.07 377.5 320.55 377 320.44 376.5 320.97 376 320.63 375.5 320.44 375 320.59 374.5 320.1 374 320.08 373.5 319.77 373 320.06 372.5 320.39 372 319.4 371.5 319.96 371 319.95 370.5 319.72 370 319.73 369.5 319.25 369 319.48 368.5 319.08 368 319.27 367.5 318.87 367 319.02 366.5 318.6 366 318.44 365.5 318.24 365 318.63 364.5 318.54 364 317.91 363.5 318.27 363 317.54 362.5 317.43 362 317.7 361.5 317.31 361 317.42 360.5 317.67 360 317.45 359.5 317.26 359 316.91 358.5 317.32 358 316.67 357.5 317.26 357 316.29 356.5 315.86 356 316.45 355.5 315.79 355 315.9 354.5 316.08 354 316.09 353.5 315.81 353 315.7 352.5 315.52 352 315.2 351.5 315.54 351 315.09 350.5 315.12 350 315.25 349.5 315.66 349 314.9 348.5 314.47 348 314.54 347.5 314.53 347 314.63 346.5 314.36 346 313.67 345.5 314.01 345 314.26 344.5 314.04 344 313.58 343.5 313.36 343 313.54 342.5 313.05 342 312.96 341.5 313.05 341 312.94 340.5 312.99 340 312.8 339.5 312.85 339 312.09 338.5 312.6 338 312.48 337.5 312.39 337 311.93 336.5 312.15 336 311.74 335.5 311.52 335 311.54 334.5 311.36 334 311.26 333.5 310.88 333 310.91 332.5 310.58 332 310.74 331.5 310.76 331 310.78 330.5 310.14 330 310.19 329.5 310.39 329 309.79 328.5 309.59 328 309.86 327.5 309.13 327 309.65 326.5 309.33 326 309.88 325.5 309.31 325 309.19 324.5 308.56 324 309.16 323.5 308.75 323 308.48 322.5 308.99 322 308.25 321.5 308.55 321 308.27 320.5 308.12 320 307.81 319.5 307.26 319 307.33 318.5 307.23 318 306.98 317.5 306.95 317 307.02 316.5 306.82 316 306.92 315.5 306.73 315 306.44 314.5 306.55 314 306.21 313.5 306.09 313 305.92 312.5 305.99 312 305.88 311.5 305.77 311 305.23 310.5 305.16 310 304.58 309.5 304.87 309 304.97 308.5 304.72 308 304.01 307.5 304.69 307 304.26 306.5 304.33 306 303.89 305.5 303.77 305 303.74 304.5 303.5 304 303.66 303.5 303.04 303 303.02 302.5 302.66 302 302.65 301.5 302.91 301 302.45 300.5 302.31 300 302.4 299.5 302.18 299 302.34 298.5 301.4 298 301.91 297.5 301.44 297 301.15 296.5 301.04 296 300.85 295.5 300.84 295 300.66 294.5 300.58 294 300.67 293.5 300.65 293 300.46 292.5 299.91 292 299.67 291.5 299.05 291 299.56 290.5 299.68 290 299.36 289.5 298.69 289 298.99 288.5 298.44 288 298.22 287.5 298.66 287 298.05 286.5 298.04 286 297.65 285.5 298.36 285 297.36 284.5 297.32 284 297.3 283.5 297.53 283 297.06 282.5 296.61 282 296.61 281.5 296.79 281 296.59 280.5 296.66 280 296.22 279.5 295.84 279 296.23 278.5 295.74 278 295.64 277.5 295.9 277 295.37 276.5 295.28 276 294.76 275.5 294.66 275 294.3 274.5 294.58 274 294.89 273.5 294.32 273 293.87 272.5 293.82 272 293.58 271.5 293.46 271 293.6 270.5 293.4 270 293.28 269.5 293 269 292.9 268.5 292.89 268 292.66 267.5 292.2 267 292.26 266.5 292 266 292.21 265.5 292.03 265 291.81 264.5 291.38 264 291.37 263.5 291.2 263 291.33 262.5 291.03 262 290.54 261.5 290.78 261 290.37 260.5 290.3 260 290.4 259.5 289.97 259 290.31 258.5 289.5 258 289.37 257.5 289.21 257 289.06 256.5 289.35 256 288.97 255.5 288.93 255 288.65 254.5 288.55 254 288.02 253.5 288.24 253 287.43 252.5 287.97 252 287.87 251.5 287.07 251 287.22 250.5 287.12 250 286.6 249.5 286.73 249 286.64 248.5 286.98 248 285.92 247.5 286.08 247 286.11 246.5 285.79 246 285.74 245.5 285.55 245 285.12 244.5 285.5 244 285.08 243.5 285.04 243 285.1 242.5 284.64 242 284.67 241.5 284.33 241 284.34 240.5 283.54 240 283.59 239.5 283.86 239 283.66 238.5 282.95 238 282.95 237.5 282.94 237 283.06 236.5 282.76 236 282.64 235.5 282.31 235 282.38 234.5 282.03 234 281.85 233.5 281.96 233 281.49 232.5 281.69 232 281.13 231.5 281.5 231 281.64 230.5 281.26 230 280.94 229.5 280.69 229 280.08 228.5 280.67 228 280.24 227.5 280.02 227 280.05 226.5 279.65 226 279.34 225.5 279.07 225 278.73 224.5 279.03 224 279.23 223.5 279.08 223 278.89 222.5 278.65 222 278 221.5 278.41 221 278.07 220.5 277.65 220 277.88 219.5 277.8 219 277.36 218.5 277 218 276.75 217.5 277.43 217 276.97 216.5 276.9 216 276.72 215.5 276.05 215 276.11 214.5 275.84 214 276 213.5 276.02 213 275.11 212.5 275.97 212 275.3 211.5 275.24 211 275.04 210.5 275 210 274.76 209.5 274.45 209 274.69 208.5 274.41 208 274.46 207.5 273.98 207 274.25 206.5 273.77 206 273.59 205.5 273.54 205 272.98 204.5 272.99 204 273.18 203.5 273.08 203 272.59 202.5 272.14 202 272.31 201.5 272.16 201 272.03 200.5 272.24 200 271.86 199.5 271.65 199 271.62 198.5 271.1 198 271.16 197.5 271.01 197 271.01 196.5 270.24 196 270.41 195.5 270.56 195 270.37 194.5 270.21 194 269.67 193.5 269.6 193 269.93 192.5 269.03 192 269.06 191.5 269.18 191 269.34 190.5 268.89 190 268.54 189.5 268.42 189 268.45 188.5 268.13 188 268.55 187.5 267.71 187 268.14 186.5 267.35 186 267.31 185.5 267.57 185 266.71 184.5 266.42 184 266.61 183.5 265.98 183 266.22 182.5 266.12 182 266.2 181.5 266.66 181 265.55 180.5 265.75 180 265.65 179.5 265.76 179 264.98 178.5 265.03 178 264.67 177.5 264.54 177 264.45 176.5 264.37 176 263.9 175.5 263.69 175 264.11 174.5 263.37 174 263.91 173.5 263.03 173 263.22 172.5 262.77 172 262.48 171.5 262.33 171 262.92 170.5 262.36 170 262.47 169.5 261.67 169 261.33 168.5 261.46 168 260.91 167.5 260.8 167 260.57 166.5 260.77 166 260.48 165.5 260.53 165 260.01 164.5 260.02 164 259.29 163.5 259.61 163 259.53 162.5 259.07 162 258.85 161.5 258.97 161 258.15 160.5 258.5 160 258.23 159.5 258.18 159 258.13 158.5 257.27 158 257.12 157.5 257.2 157 257.3 156.5 256.63 156 256.6 155.5 255.86 155 256.04 154.5 255.83 154 255.26 153.5 255.3 153 255.17 152.5 254.96 152 254.64 151.5 254.41 151 254.03 150.5 254.1 150 254.48 149.5 253.64 149 253.05 148.5 253.49 148 252.98 147.5 253.23 147 253.45 146.5 252.02 146 251.84 145.5 251.56 145 251.96 144.5 251.27 144 251.15 143.5 250.6 143 250.82 142.5 250.62 142 250.18 141.5 249.8 141 249.67 140.5 249.5 140 249.24 139.5 249.3 139 249.1 138.5 248.39 138 247.89 137.5 248.54 137 247.81 136.5 247.31 136 247.16 135.5 247.07 135 247.07 134.5 246.41 134 246.27 133.5 245.76 133 245.85 132.5 245.49 132 245.24 131.5 244.68 131 244.54 130.5 244.77 130 243.97 129.5 244.24 129 243.82 128.5 243.33 128 243.21 127.5 242.82 127 242.54 126.5 242.33 126 241.71 125.5 241.2 125 241.68 124.5 241.01 124 240.75 123.5 240.31 123 240.61 122.5 239.98 122 240.09 121.5 239.4 121 239.35 120.5 238.7 120 238.88 119.5 238.22 119 238.11 118.5 237.28 118 237.21 117.5 236.89 117 236.94 116.5 236.42 116 236.33 115.5 235.94 115 235.19 114.5 234.97 114 235.21 113.5 234.13 113 234.2 112.5 233.97 112 233.49 111.5 233.05 111 232.73 110.5 232.3 110 231.9 109.5 231.44 109 231.05 108.5 231.01 108 230.89 107.5 230.14 107 229.52 106.5 229.58 106 229.23 105.5 228.9 105 228.34 104.5 228.05 104 227.15 103.5 226.81 103 226.31 102.5 226.34 102 225.75 101.5 225.29 101 224.24 100.5 224.55 100 223.78Z"/><path d="M100 222.07 100.5 223.48 101 223.67 101.5 224.11 102 225.37 102.5 223.61 103 224.4 103.5 224.39 104 225.56 104.5 226.95 105 226.43 105.5 227.3 106 226.04 106.5 227.76 107 227.43 107.5 230.04 108 229.58 108.5 230.01 109 229.44 109.5 230.41 110 230.81 110.5 230.31 111 230.55 111.5 231.14 112 231.16 112.5 231.5 113 232.03 113.5 232.06 114 233.61 114.5 232.13 115 234.32 115.5 233.41 116 233.78 116.5 233.55 117 234.67 117.5 234.91 118 235.58 118.5 235.33 119 236.1 119.5 238.14 120 237.02 120.5 236.51 121 238.17 121.5 237.41 122 238.4 122.5 238.72 123 238.11 123.5 237.32 124 238.72 124.5 239.82 125 239.27 125.5 240.28 126 241.12 126.5 239.99 127 241.95 127.5 242.65 128 242.35 128.5 242.72 129 242.93 129.5 244.43 130 242.5 130.5 242.57 131 243.48 131.5 242.44 132 242.22 132.5 242.98 133 244.29 133.5 244.66 134 243.27 134.5 243.26 135 244.68 135.5 245.03 136 245.39 136.5 246.42 137 247.29 137.5 246.43 138 247.11 138.5 245.83 139 246.02 139.5 247.42 140 248.15 140.5 248.46 141 248.55 141.5 249.01 142 249.28 142.5 247.23 143 248.25 143.5 249.58 144 249.98 144.5 248.33 145 251.11 145.5 249.63 146 250.02 146.5 250.75 147 251.54 147.5 249.74 148 252.27 148.5 251.42 149 250.93 149.5 251.55 150 250.22 150.5 251.68 151 252.64 151.5 252.06 152 252.58 152.5 252.94 153 253.33 153.5 254.72 154 253.67 154.5 253.69 155 254.77 155.5 256.86 156 254.24 156.5 255.36 157 253.61 157.5 256.8 158 256.15 158.5 257.19 159 255.69 159.5 255.05 160 257.24 160.5 257.28 161 255.79 161.5 255.46 162 257.48 162.5 256.96 163 260.62 163.5 256.96 164 257.23 164.5 257.78 165 256.61 165.5 257.47 166 260.56 166.5 258.51 167 258.28 167.5 257.87 168 259.94 168.5 260.23 169 259.88 169.5 259.38 170 260.31 170.5 260.6 171 259.66 171.5 261.28 172 258.71 172.5 259.63 173 260.71 173.5 261.06 174 260.27 174.5 261.95 175 263.11 175.5 262.47 176 262.33 176.5 263.33 177 262.93 177.5 261.48 178 262.52 178.5 264.66 179 261.98 179.5 263.31 180 263.02 180.5 262.7 181 262.76 181.5 264.03 182 264.5 182.5 264.65 183 263 183.5 264.27 184 265.2 184.5 266.22 185 265.99 185.5 266.38 186 266.93 186.5 266.7 187 264.88 187.5 265.92 188 265.3 188.5 263.81 189 264.66 189.5 269.51 190 265.52 190.5 264.56 191 266.36 191.5 269.34 192 267.21 192.5 268.02 193 267.3 193.5 267.64 194 269.76 194.5 269.22 195 268.1 195.5 269.68 196 270.11 196.5 268.42 197 269.21 197.5 269.34 198 268.42 198.5 271 199 269.24 199.5 268.92 200 267.97 200.5 268.54 201 272.35 201.5 268.97 202 270.98 202.5 270.08 203 271.41 203.5 271.7 204 270.09 204.5 270.75 205 271.37 205.5 271.54 206 271.48 206.5 271.32 207 272.8 207.5 274.04 208 272.96 208.5 271.45 209 273.03 209.5 272.65 210 273.43 210.5 275.8 211 272.76 211.5 273.13 212 272.32 212.5 273.12 213 272.96 213.5 276.33 214 274.37 214.5 273.39 215 277.32 215.5 272.85 216 275.88 216.5 276.29 217 275.71 217.5 274.62 218 274.92 218.5 274.82 219 276.66 219.5 272.87 220 275.08 220.5 276.06 221 275.29 221.5 274.03 222 275.97 222.5 275.53 223 277.9 223.5 279.06 224 276.96 224.5 274.76 225 276.92 225.5 276.22 226 278.61 226.5 280.49 227 278.29 227.5 281.39 228 280.65 228.5 279.4 229 277.34 229.5 278.86 230 277.07 230.5 280.8 231 279.37 231.5 281.72 232 279.99 232.5 277.26 233 280.94 233.5 281.6 234 283.05 234.5 279.02 235 279.23 235.5 280.69 236 279.37 236.5 279.13 237 279.62 237.5 285.81 238 280.47 238.5 280.15 239 280.98 239.5 281.74 240 284.21 240.5 283.74 241 283.61 241.5 282.42 242 282.78 242.5 281.79 243 280.87 243.5 286.68 244 282.47 244.5 285.11 245 282.95 245.5 283.39 246 283.46 246.5 282.07 247 283.87 247.5 284.87 248 285.86 248.5 285.39 249 286.53 249.5 285.33 250 284.92 250.5 282.52 251 284.49 251.5 288.31 252 285.77 252.5 287.19 253 285.52 253.5 285.08 254 290.03 254.5 286.98 255 289.3 255.5 287.62 256 286.33 256.5 283.96 257 287.25 257.5 285.14 258 284.44 258.5 289.91 259 289.07 259.5 289.07 260 288.09 260.5 288.07 261 289.11 261.5 288.75 262 288.74 262.5 290.19 263 285.62 263.5 290.8 264 288.33 264.5 291.03 265 291.8 265.5 288.5 266 291.36 266.5 291.48 267 289.11 267.5 289.48 268 290.57 268.5 287.49 269 290.02 269.5 291.15 270 290.32 270.5 288.91 271 290.69 271.5 294.38 272 294.16 272.5 291.51 273 290.73 273.5 291.95 274 292.16 274.5 291.35 275 291.97 275.5 293.83 276 294.6 276.5 289.54 277 295 277.5 293.45 278 295.65 278.5 293.45 279 294.52 279.5 297.1 280 289.84 280.5 297.31 281 294.62 281.5 291.86 282 290.84 282.5 295.32 283 293.4 283.5 297.03 284 295.57 284.5 295.09 285 297.46 285.5 295.97 286 297.25 286.5 297.58 287 296.68 287.5 297.79 288 297.94 288.5 294.53 289 296.22 289.5 296.58 290 296.36 290.5 294.8 291 296.39 291.5 298.05 292 297.89 292.5 300.81 293 296.91 293.5 297.31 294 297.25 294.5 297.76 295 297.5 295.5 295.83 296 299.37 296.5 300.88 297 301.3 297.5 297.52 298 298.95 298.5 303.28 299 299.35 299.5 300.39 300 299.58 300.5 302.08 301 302.14 301.5 305.19 302 301.43 302.5 301.47 303 298.88 303.5 300.19 304 299.9 304.5 300.59 305 299.29 305.5 303.97 306 299.95 306.5 302.22 307 299.92 307.5 302.66 308 305.64 308.5 300.98 309 303.11 309.5 302.36 310 303.22 310.5 303.65 311 301.93 311.5 302.74 312 302.27 312.5 302.05 313 301.59 313.5 305.67 314 302.59 314.5 305.29 315 305.18 315.5 302.6 316 306.54 316.5 303.07 317 305.88 317.5 307.85 318 303.68 318.5 303.49 319 303.6 319.5 310.26 320 304.72 320.5 303.5 321 307.36 321.5 305.41 322 305.75 322.5 304.41 323 302.67 323.5 305.07 324 304.72 324.5 303.96 325 304.9 325.5 305.24 326 308.63 326.5 308.53 327 308.23 327.5 306.38 328 305.38 328.5 308.11 329 308.61 329.5 309.97 330 307.78 330.5 307.75 331 308.77 331.5 306.75 332 307.07 332.5 309.9 333 306.6 333.5 308.56 334 310.59 334.5 309.46 335 310.03 335.5 307.43 336 309.1 336.5 308.99 337 310.93 337.5 310.63 338 309.85 338.5 314.31 339 311.29 339.5 309.69 340 309.29 340.5 310.33 341 309.6 341.5 314.45 342 312.08 342.5 310.37 343 309.93 343.5 309.38 344 310.77 344.5 314.42 345 313.43 345.5 311.47 346 312.02 346.5 308.8 347 313.72 347.5 311.66 348 315.4 348.5 311.95 349 311.58 349.5 313 350 311.55 350.5 315.91 351 313.52 351.5 313.83 352 313.86 352.5 312.57 353 314.44 353.5 313.82 354 317.73 354.5 313.78 355 314.64 355.5 313.07 356 313.32 356.5 313.54 357 317.34 357.5 314.53 358 316.81 358.5 314.08 359 314.02 359.5 311.54 360 316.93 360.5 320.05 361 314.68 361.5 318.75 362 317.43 362.5 314.24 363 317.44 363.5 314.09 364 315.19 364.5 318.89 365 316.38 365.5 314.04 366 319.69 366.5 314.37 367 316.05 367.5 315.84 368 316.25 368.5 315.19 369 313.96 369.5 321.54 370 315.32 370.5 315.53 371 312.98 371.5 317.53 372 320.65 372.5 321.03 373 324.57 373.5 321.49 374 318.85 374.5 317.99 375 321.66 375.5 318.04 376 318.73 376.5 316.59 377 318.68 377.5 323.55 378 318.44 378.5 319.74 379 314.56 379.5 322.36 380 319.96 380.5 322.72 381 319.81 381.5 317.71 382 316.91 382.5 320.74 383 319.46 383.5 317.84 384 319.53 384.5 318.61 385 321.72 385.5 319.17 386 317.82 386.5 319.91 387 319.15 387.5 324.09 388 319.49 388.5 318.05 389 320.38 389.5 320.1 390 321.34 390.5 321.28 391 318.97 391.5 320.8 392 320.8 392.5 318.92 393 320.13 393.5 321.74 394 318.46 394.5 319.46 395 320.65 395.5 321.41 396 322.96 396.5 319.29 397 322.56 397.5 323.52 398 326.07 398.5 321.33 399 320.52 399.5 319.48 400 323.78 400.5 325.85 401 321.3 401.5 323.78 402 325.01 402.5 325.38 403 322.23 403.5 324.78 404 323.1 404.5 321.55 405 324.1 405.5 324.48 406 321.83 406.5 324.93 407 329.27 407.5 321.13 408 325.94 408.5 326.62 409 324.36 409.5 325.2 410 323.89 410.5 328.21 411 322.79 411.5 324.38 412 321.07 412.5 325.69 413 325.9 413.5 321.81 414 323.4 414.5 326.43 415 324.28 415.5 323 416 320.63 416.5 326.38 417 330.9 417.5 324.74 418 326.87 418.5 326.91 419 325.71 419.5 326.19 420 326.33 420.5 324.47 421 333.22 421.5 333.95 422 327.24 422.5 331.5 423 325.01 423.5 326.24 424 329.94 424.5 324.63 425 324.43 425.5 327.97 426 323.3 426.5 332.1 427 329.43 427.5 328.09 428 329.41 428.5 325.85 429 325.88 429.5 330.19 430 330.59 430.5 328.4 431 328 431.5 327.14 432 332.3 432.5 325.46 433 326.78 433.5 327.49 434 325.63 434.5 326.11 435 326.79 435.5 331.86 436 334.26 436.5 330.11 437 325.97 437.5 328.07 438 329.09 438.5 328.92 439 328.8 439.5 331.15 440 325.84 440.5 328.66 441 330.53 441.5 332.1 442 330.93 442.5 330.24 443 329.99 443.5 329.02 444 330.73 444.5 330.14 445 329.22 445.5 334.34 446 334.39 446.5 330.17 447 332.89 447.5 334.71 448 332.03 448.5 331.71 449 332.9 449.5 328.11 450 328.65 450.5 333.26 451 332.61 451.5 335.99 452 330.91 452.5 335.37 453 335.34 453.5 338.19 454 330.63 454.5 331.64 455 333.34 455.5 333.4 456 330.58 456.5 331.55 457 330.12 457.5 339.98 458 332.85 458.5 333.1 459 331.89 459.5 333.38 460 335.8 460.5 332.74 461 333.48 461.5 340.32 462 336.57 462.5 334.55 463 332.98 463.5 333.93 464 332.48 464.5 335.01 465 332.79 465.5 332.75 466 333.5 466.5 332.18 467 335.16 467.5 342.45 468 333.36 468.5 331.24 469 337.83 469.5 334.68 470 341.17 470.5 336.25 471 338.04 471.5 333.56 472 331.89 472.5 334.98 473 337.52 473.5 333.68 474 332.2 474.5 334.4 475 334.8 475.5 335.13 476 335.84 476.5 343.5 477 336.13 477.5 335.08 478 333.89 478.5 338.79 479 332.97 479.5 341.01 480 336.54 480.5 333.38 481 337.24 481.5 336.55 482 340.73 482.5 333.71 483 337.63 483.5 337.1 484 340.09 484.5 334.83 485 335.69 485.5 343.72 486 339.27 486.5 334.41 487 338.69 487.5 336.08 488 336.38 488.5 335.29 489 341.16 489.5 336.96 490 338.79 490.5 338.48 491 335.04 491.5 336.84 492 340.98 492.5 335.18 493 339.46 493.5 338.59 494 340.93 494.5 341.15 495 341.69 495.5 339.29 496 340.01 496.5 337.76 497 338.21 497.5 342.39 498 338.26 498.5 342.98 499 342.99 499.5 338.06 500 341.72 500.5 338.2 501 341.17 501.5 338.45 502 341.33 502.5 340.86 503 338.1 503.5 347.3 504 343.77 504.5 337.09 505 341.9 505.5 339.92 506 347.77 506.5 340.93 507 342.42 507.5 340.82 508 343.39 508.5 340.19 509 339.44 509.5 340.44 510 340.7 510.5 343.82 511 342.09 511.5 340.9 512 341.07 512.5 339.99 513 342.57 513.5 337.57 514 341.83 514.5 346.41 515 341.67 515.5 341.08 516 342.79 516.5 340.61 517 341.09 517.5 345.23 518 341.54 518.5 349.75 519 344.99 519.5 343.03 520 341.9 520.5 342.83 521 338.21 521.5 344.4 522 346.7 522.5 345.7 523 342.83 523.5 346.02 524 346.18 524.5 343.79 525 345.35 525.5 347.82 526 345.89 526.5 343.53 527 344.54 527.5 345.09 528 340.88 528.5 345.17 529 344.54 529.5 339.78 530 340.94 530.5 351.35 531 345.5 531.5 349.93 532 344.44 532.5 350.77 533 347.47 533.5 343.95 534 346.62 534.5 351.25 535 354.24 535.5 347.72 536 344.94 536.5 344.01 537 348.59 537.5 350.12 538 346.84 538.5 346.18 539 349.41 539.5 348.33 540 348.09 540.5 343.08 541 346.06 541.5 353.68 542 346.99 542.5 355.79 543 348.58 543.5 346.58 544 348.37 544.5 349.61 545 345.76 545.5 348.48 546 346.67 546.5 353.01 547 346.73 547.5 348.36 548 344.32 548.5 344.73 549 347.94 549.5 345.99 550 347.6 550.5 349.26 551 350.52 551.5 345.09 552 348.19 552.5 351.14 553 347.13 553.5 345.65 554 347.25 554.5 354.99 555 349.2 555.5 354.92 556 348.52 556.5 353.74 557 345.84 557.5 348.89 558 349.93 558.5 356.17 559 351.51 559.5 353.98 560 348.87 560.5 348.96 561 354.81 561.5 355.47 562 354.82 562.5 354.8 563 349.09 563.5 358.53 564 351.22 564.5 355.41 565 353.55 565.5 346.35 566 345.94 566.5 346.89 567 350.93 567.5 355.34 568 350.58 568.5 354.47 569 348.2 569.5 349.85 570 349.21 570.5 351.73 571 348.72 571.5 351.49 572 354.09 572.5 350.72 573 349.68 573.5 350.9 574 348.99 574.5 349.54 575 355.37 575.5 353.69 576 348.71 576.5 351.8 577 354.36 577.5 355.77 578 355.24 578.5 356.63 579 352.83 579.5 352.97 580 352.44 580.5 357.41 581 356.56 581.5 360.23 582 357.75 582.5 351.34 583 349.67 583.5 349.96 584 351.35 584.5 356.19 585 350.15 585.5 348.56 586 353.53 586.5 357.24 587 357.2 587.5 360.76 588 354.21 588.5 352.88 589 353.63 589.5 350.94 590 352.79 590.5 359.69 591 362.98 591.5 359.8 592 356.03 592.5 354.3 593 355.97 593.5 350.01 594 357.43 594.5 358.33 595 354.96 595.5 355.45 596 350.88 596.5 358.64 597 358.73 597.5 348.18 598 354.19 598.5 357.19 599 362.57 599.5 353.64 600 355.97 600.5 362.01 601 358.1 601.5 355.71 602 355.17 602.5 356.56 603 354.36 603.5 360.69 604 354.32 604.5 359.07 605 360.66 605.5 361.88 606 357.6 606.5 357.32 607 358.73 607.5 357.85 608 362.08 608.5 357.34 609 365.66 609.5 369.32 610 356.08 610.5 359.71 611 354.8 611.5 361.27 612 359.97 612.5 357.64 613 355.39 613.5 358.58 614 366.82 614.5 365.24 615 360.27 615.5 356.94 616 358.71 616.5 356.55 617 355.06 617.5 356.26 618 361.6 618.5 360.41 619 359.95 619.5 356.09 620 355.29 620.5 363.63 621 358.4 621.5 364.51 622 357.45 622.5 363.78 623 360.77 623.5 358.55 624 358.64 624.5 368.05 625 363.97 625.5 359.33 626 360.92 626.5 355.78 627 367.62 627.5 366.33 628 359.29 628.5 362.52 629 352.64 629.5 364.85 630 362.79 630.5 361.98 631 364.45 631.5 362.27 632 358.19 632.5 359.06 633 360.61 633.5 365.07 634 361.38 634.5 359.38 635 362.94 635.5 357.87 636 370.46 636.5 362.9 637 358.79 637.5 362.46 638 366.46 638.5 364.22 639 370.75 639.5 357.86 640 368.99 640.5 362.1 641 366.07 641.5 369.76 642 358.86 642.5 358.3 643 361.4 643.5 357.7 644 356.72 644.5 363.13 645 367.91 645.5 361.49 646 365.18 646.5 379.15 647 364.61 647.5 362.3 648 362.8 648.5 365.26 649 362.58 649.5 366.56 650 364.56 650.5 367.72 651 364.41 651.5 363.56 652 361.09 652.5 359.8 653 363.17 653.5 362.93 654 365.43 654.5 364.01 655 363.13 655.5 374.43 656 365.89 656.5 369.94 657 361.5 657.5 369.17 658 369.98 658.5 366.83 659 362.19 659.5 370.58 660 362.83 660.5 360.36 661 360.23 661.5 365.54 662 363.8 662.5 368.99 663 368.47 663.5 371.68 664 367.11 664.5 366.18 665 365.77 665.5 363.38 666 363.31 666.5 363.69 667 367.06 667.5 363.46 668 365.86 668.5 371.09 669 358.9 669.5 363.62 670 363.32 670.5 366.41 671 361.9 671.5 364.49 672 377.03 672.5 362.45 673 366.48 673.5 367.73 674 365.96 674.5 363.21 675 371.53 675.5 361.11 676 364.12 676.5 366.48 677 365.28 677.5 372.6 678 366.36 678.5 376.06 679 367.41 679.5 374.49 680 369.39 680.5 366.83 681 366.76 681.5 372.33 682 366.08 682.5 367.73 683 365.41 683.5 361.54 684 370.41 684.5 370.92 685 364.36 685.5 370.29 686 367.53 686.5 362.35 687 365.47 687.5 371.47 688 373.27 688.5 370.36 689 381.64 689.5 370.33 690 366.51 690.5 364.28 691 375.93 691.5 367.62 692 368 692.5 366.65 693 366.74 693.5 368.26 694 371.59 694.5 372.08 695 371.24 695.5 374.16 696 368.27 696.5 366.63 697 369.82 697.5 363.45 698 374.15 698.5 372.62 699 372.79 699.5 366.88 700 368.85 700.5 370.6 701 367.31 701.5 367.12 702 370.04 702.5 371.47 703 368.7 703.5 375.8 704 381.54 704.5 373.8 705 370.53 705.5 370.15 706 378.95 706.5 372.78 707 374.31 707.5 372.53 708 369.68 708.5 378.86 709 370.88 709.5 372.46 710 364.78 710.5 382.28 711 375.55 711.5 371.68 712 369.46 712.5 370.11 713 366.58 713.5 374.5 714 369.44 714.5 374.43 715 374.62 715.5 381.8 716 373.62 716.5 374.08 717 375.16 717.5 370.75 718 372.07 718.5 374.54 719 378.68 719.5 376.75 720 372.3 720.5 379.24 721 372.09 721.5 368.35 722 381.19 722.5 373.73 723 372.13 723.5 369.72 724 372.35 724.5 382.24 725 373.78 725.5 385.06 726 374.37 726.5 379.88 727 374.57 727.5 372.82 728 372.99 728.5 373.6 729 370.5 729.5 370.46 730 376.6 730.5 381.05 731 375.74 731.5 375.28 732 371.9 732.5 380.79 733 380.46 733.5 371.25 734 375.73 734.5 374.18 735 370.31 735.5 383.6 736 381.55 736.5 377.31 737 382.85 737.5 373.97 738 377.31 738.5 382.74 739 374.9 739.5 377.63 740 372.72 740.5 379.49 741 382.11 741.5 372.86 742 373.55 742.5 376.08 743 383.52 743.5 374.66 744 373.6 744.5 376.14 745 382.42 745.5 371.37 746 376.09 746.5 383.44 747 376.71 747.5 375.86 748 381.3 748.5 372.78 749 387.48 749.5 379.56 750 375.78 750.5 377.64 751 376.98 751.5 376.25 752 373.07 752.5 376.5 753 371.44 753.5 384.49 754 373.59 754.5 375 755 374.84 755.5 381.34 756 377.02 756.5 385.1 757 376.23 757.5 378.65 758 377.71 758.5 376.82 759 383.79 759.5 384.43 760 384.92 760.5 373.41 761 380.09 761.5 374.44 762 374.39 762.5 372.17 763 375.23 763.5 381.68 764 385.84 764.5 387.67 765 375.6 765.5 376.66 766 380.11 766.5 379.72 767 380.15 767.5 372.92 768 378.47 768.5 382.21 769 380.63 769.5 378.9 770 376.82 770.5 379.11 771 387.79 771.5 382.16 772 385.08 772.5 388.29 773 375.89 773.5 383.26 774 382.24 774.5 386.79 775 379.1 775.5 379.23 776 377.72 776.5 381.03 777 379.16 777.5 379.66 778 381.96 778.5 378.96 779 377.06 779.5 378.96 780 378.52 780.5 382.71 781 387.06 781.5 379.42 782 371.96 782.5 383.76 783 380.58 783.5 377.49 784 380.02 784.5 390.67 785 375.69 785.5 376.92 786 380.91 786.5 370.03 787 379.59 787.5 386.37 788 384.15 788.5 383.32 789 380.26 789.5 380.95 790 396.01 790.5 382.81 791 388.77 791.5 377.24 792 383.06 792.5 383.73 793 382.68 793.5 374.17 794 380.53 794.5 389.78 795 385.04 795.5 379.4 796 386.87 796.5 375.55 797 385.43 797.5 384.22 798 380.28 798.5 378.86 799 376.58 799.5 381.87 800 391.91 800.5 387.32 801 384.96 801.5 387.77 802 380.8 802.5 385.76 803 372.44 803.5 381.32 804 381.41 804.5 382.96 805 382.63 805.5 386.38 806 381.09 806.5 388.28 807 382.55 807.5 388.11 808 384.09 808.5 388.09 809 386.05 809.5 381.51 810 384.66 810.5 379.03 811 384.05 811.5 385.85 812 382.96 812.5 383.42 813 389.27 813.5 390.54 814 391.75 814.5 382.14 815 382.73 815.5 388.53 816 389.12 816.5 377.75 817 395.13 817.5 390.74 818 380.04 818.5 390.87 819 383.23 819.5 384.38 820 381.26 820.5 381.92 821 383.59 821.5 385.48 822 381.02 822.5 384.94 823 382.62 823.5 383.34 824 382.07 824.5 383.09 825 394.15 825.5 379.51 826 380.68 826.5 385.37 827 383.82 827.5 381.81" fill="none" stroke="#00FF00" stroke-width="2.8" stroke-linejoin="round"/><path d="M71.5 400 72.3 379 75.9 343.9 78.1 318.8 79.6 300 80.7 277.5 83.3 249.9 85.8 231 88.4 218.9 90.2 216.2 90.6 216 92 215.2 94 216.6 96 218.8 98 221 100 222.07 100.5 223.48" fill="none" stroke="#00FF00" stroke-width="3.6" stroke-linejoin="round"/></g>
<path d="M54 402 L54 390.2 L57 390.2 L60 390.8 L61.8 392 L62.5 395.8 L63.3 392 L65 390.5 L66.5 391.5 L67.5 393.5 L68.5 391 L70 390.5 L71.5 390.5 L72.8 391 L73 402Z" fill="#00FF00" clip-path="url(#c1)"/>
<g clip-path="url(#c2)"><path d="M73.2 600 73.8 590 75.3 570 77.2 550.7 79.4 529 80.6 515 82.4 494.7 85 460.2 87.7 432 90.1 419.2 91.5 416 92.9 414.8 94.4 415.8 95.8 419.5 97.4 428 99.6 441 101.6 462 102.9 490 103.6 504 104.3 512" fill="none" stroke="#000000" stroke-width="2.8" stroke-linejoin="round"/><path d="M103.2 508 L105.4 508 L105.7 517.2 L106.8 522.9 L109.3 525.4 L111.5 529 L114 530.4 L116.8 530.8 L118.6 526.1 L121.5 524.3 L124.4 523.6 L125.4 528.6 L128.3 533.7 L129.4 544.4 L131.5 548 L133 554.4 L133.9 560 L129.6 560 L128.3 550.1 L127.2 543.7 L125.4 540.8 L124.7 537.2 L121.5 536.5 L120.4 536.9 L119 535.8 L117.6 535.1 L116.8 545.1 L114.7 545.5 L112.9 542.3 L111.8 538.7 L108.6 538.3 L106.8 532.2 L105.4 524.3 L103.9 518.6Z" fill="#000000" stroke="#000000" stroke-width="0.6" stroke-linejoin="round"/><path d="M131.3 555 132.5 565 133.6 572 134.3 580 135 590 135.5 600" fill="none" stroke="#000000" stroke-width="4.2" stroke-linejoin="round"/></g>
<g clip-path="url(#c2)"><path d="M138.8 600 L138.8 574.43 L140.8 574.43 L140.8 577.05 L142.8 577.05 L142.8 571.14 L144.8 571.14 L144.8 573.03 L146.8 573.03 L146.8 579.41 L148.8 579.41 L148.8 579.59 L150.8 579.59 L150.8 574.92 L152.8 574.92 L152.8 579.13 L154.8 579.13 L154.8 582.93 L156.8 582.93 L156.8 575.81 L158.8 575.81 L158.8 576.09 L160.8 576.09 L160.8 581.39 L162.8 581.39 L162.8 583.71 L164.8 583.71 L164.8 583.32 L166.8 583.32 L166.8 588.8 L168.8 588.8 L168.8 581.6 L170.8 581.6 L170.8 582.55 L172.8 582.55 L172.8 589.51 L174.8 589.51 L174.8 582.06 L176.8 582.06 L176.8 590.32 L178.8 590.32 L178.8 580.6 L180.8 580.6 L180.8 589.26 L182.8 589.26 L182.8 582.19 L184.8 582.19 L184.8 589.02 L186.8 589.02 L186.8 588.84 L188.8 588.84 L188.8 582.19 L190.8 582.19 L190.8 581.15 L192.8 581.15 L192.8 590.94 L194.8 590.94 L194.8 582.87 L196.8 582.87 L196.8 589.61 L198.8 589.61 L198.8 589.65 L200.8 589.65 L200.8 588.02 L202.8 588.02 L202.8 587.64 L204.8 587.64 L204.8 590.28 L206.8 590.28 L206.8 589.69 L208.8 589.69 L208.8 584.58 L210.8 584.58 L210.8 589.55 L212.8 589.55 L212.8 585.74 L214.8 585.74 L214.8 589.37 L216.8 589.37 L216.8 588.36 L218.8 588.36 L218.8 584.97 L220.8 584.97 L220.8 596.38 L222.8 596.38 L222.8 588.7 L224.8 588.7 L224.8 590.13 L226.8 590.13 L226.8 583.01 L228.8 583.01 L228.8 588.77 L230.8 588.77 L230.8 587.48 L232.8 587.48 L232.8 589.01 L234.8 589.01 L234.8 589.23 L236.8 589.23 L236.8 585.22 L238.8 585.22 L238.8 588.82 L240.8 588.82 L240.8 585.06 L242.8 585.06 L242.8 582.5 L244.8 582.5 L244.8 587.7 L246.8 587.7 L246.8 590.57 L248.8 590.57 L248.8 594.54 L250.8 594.54 L250.8 581.84 L252.8 581.84 L252.8 588.96 L254.8 588.96 L254.8 584.93 L256.8 584.93 L256.8 581.05 L258.8 581.05 L258.8 582.05 L260.8 582.05 L260.8 589.28 L262.8 589.28 L262.8 584.59 L264.8 584.59 L264.8 583.9 L266.8 583.9 L266.8 590 L268.8 590 L268.8 585.9 L270.8 585.9 L270.8 596.98 L272.8 596.98 L272.8 582.02 L274.8 582.02 L274.8 581.25 L276.8 581.25 L276.8 588.68 L278.8 588.68 L278.8 588.62 L280.8 588.62 L280.8 581.97 L282.8 581.97 L282.8 586.19 L284.8 586.19 L284.8 589.15 L286.8 589.15 L286.8 589.09 L288.8 589.09 L288.8 589.5 L290.8 589.5 L290.8 589.9 L292.8 589.9 L292.8 581.11 L294.8 581.11 L294.8 588.94 L296.8 588.94 L296.8 588.79 L298.8 588.79 L298.8 584.69 L300.8 584.69 L300.8 594.57 L302.8 594.57 L302.8 583.23 L304.8 583.23 L304.8 590.4 L306.8 590.4 L306.8 590.13 L308.8 590.13 L308.8 589.16 L310.8 589.16 L310.8 590.19 L312.8 590.19 L312.8 590.57 L314.8 590.57 L314.8 585.06 L316.8 585.06 L316.8 584.77 L318.8 584.77 L318.8 587.3 L320.8 587.3 L320.8 585.01 L322.8 585.01 L322.8 586.77 L324.8 586.77 L324.8 588.33 L326.8 588.33 L326.8 583.5 L328.8 583.5 L328.8 589.75 L330.8 589.75 L330.8 587.65 L332.8 587.65 L332.8 589.24 L334.8 589.24 L334.8 583.91 L336.8 583.91 L336.8 590.56 L338.8 590.56 L338.8 587.1 L340.8 587.1 L340.8 582.95 L342.8 582.95 L342.8 584.55 L344.8 584.55 L344.8 594.05 L346.8 594.05 L346.8 581.02 L348.8 581.02 L348.8 585.87 L350.8 585.87 L350.8 587.74 L352.8 587.74 L352.8 582.59 L354.8 582.59 L354.8 582.4 L356.8 582.4 L356.8 591.49 L358.8 591.49 L358.8 589.9 L360.8 589.9 L360.8 585.16 L362.8 585.16 L362.8 590.49 L364.8 590.49 L364.8 581.41 L366.8 581.41 L366.8 582.36 L368.8 582.36 L368.8 582.69 L370.8 582.69 L370.8 596.24 L372.8 596.24 L372.8 596 L374.8 596 L374.8 586.66 L376.8 586.66 L376.8 589.38 L378.8 589.38 L378.8 583.77 L380.8 583.77 L380.8 588.49 L382.8 588.49 L382.8 586.81 L384.8 586.81 L384.8 589.93 L386.8 589.93 L386.8 585.99 L388.8 585.99 L388.8 590.34 L390.8 590.34 L390.8 590.31 L392.8 590.31 L392.8 590.99 L394.8 590.99 L394.8 587.11 L396.8 587.11 L396.8 582.86 L398.8 582.86 L398.8 588.66 L400.8 588.66 L400.8 588.08 L402.8 588.08 L402.8 588.33 L404.8 588.33 L404.8 584.74 L406.8 584.74 L406.8 587.99 L408.8 587.99 L408.8 582.12 L410.8 582.12 L410.8 587.09 L412.8 587.09 L412.8 588.37 L414.8 588.37 L414.8 591.16 L416.8 591.16 L416.8 588.9 L418.8 588.9 L418.8 582.13 L420.8 582.13 L420.8 596.03 L422.8 596.03 L422.8 588.98 L424.8 588.98 L424.8 590.26 L426.8 590.26 L426.8 586.76 L428.8 586.76 L428.8 590.42 L430.8 590.42 L430.8 588.82 L432.8 588.82 L432.8 585.72 L434.8 585.72 L434.8 582.96 L436.8 582.96 L436.8 584.39 L438.8 584.39 L438.8 590.24 L440.8 590.24 L440.8 581.87 L442.8 581.87 L442.8 581.89 L444.8 581.89 L444.8 589.4 L446.8 589.4 L446.8 582.27 L448.8 582.27 L448.8 595.1 L450.8 595.1 L450.8 591.44 L452.8 591.44 L452.8 583.03 L454.8 583.03 L454.8 585.65 L456.8 585.65 L456.8 584.88 L458.8 584.88 L458.8 587.11 L460.8 587.11 L460.8 588.63 L462.8 588.63 L462.8 583.01 L464.8 583.01 L464.8 588.81 L466.8 588.81 L466.8 586.73 L468.8 586.73 L468.8 585.02 L470.8 585.02 L470.8 587.12 L472.8 587.12 L472.8 586.86 L474.8 586.86 L474.8 589.24 L476.8 589.24 L476.8 582.62 L478.8 582.62 L478.8 589.77 L480.8 589.77 L480.8 589.02 L482.8 589.02 L482.8 585.52 L484.8 585.52 L484.8 596.78 L486.8 596.78 L486.8 590.22 L488.8 590.22 L488.8 583.58 L490.8 583.58 L490.8 589.4 L492.8 589.4 L492.8 587.95 L494.8 587.95 L494.8 585.02 L496.8 585.02 L496.8 584.15 L498.8 584.15 L498.8 597.58 L500.8 597.58 L500.8 590.44 L502.8 590.44 L502.8 590.72 L504.8 590.72 L504.8 581.47 L506.8 581.47 L506.8 589.63 L508.8 589.63 L508.8 588.58 L510.8 588.58 L510.8 591.01 L512.8 591.01 L512.8 585.17 L514.8 585.17 L514.8 585.05 L516.8 585.05 L516.8 588.44 L518.8 588.44 L518.8 589.29 L520.8 589.29 L520.8 581.91 L522.8 581.91 L522.8 590.72 L524.8 590.72 L524.8 587.77 L526.8 587.77 L526.8 584.8 L528.8 584.8 L528.8 582.56 L530.8 582.56 L530.8 582.37 L532.8 582.37 L532.8 590.23 L534.8 590.23 L534.8 597.22 L536.8 597.22 L536.8 586.04 L538.8 586.04 L538.8 589.17 L540.8 589.17 L540.8 585.9 L542.8 585.9 L542.8 582.72 L544.8 582.72 L544.8 596.93 L546.8 596.93 L546.8 591 L548.8 591 L548.8 583.14 L550.8 583.14 L550.8 585.2 L552.8 585.2 L552.8 590.07 L554.8 590.07 L554.8 589.98 L556.8 589.98 L556.8 585.98 L558.8 585.98 L558.8 586.15 L560.8 586.15 L560.8 582.75 L562.8 582.75 L562.8 590.05 L564.8 590.05 L564.8 589.18 L566.8 589.18 L566.8 583.13 L568.8 583.13 L568.8 589.87 L570.8 589.87 L570.8 589.21 L572.8 589.21 L572.8 585.47 L574.8 585.47 L574.8 589.53 L576.8 589.53 L576.8 586.41 L578.8 586.41 L578.8 590.6 L580.8 590.6 L580.8 589.94 L582.8 589.94 L582.8 583.21 L584.8 583.21 L584.8 590.28 L586.8 590.28 L586.8 589.9 L588.8 589.9 L588.8 584.65 L590.8 584.65 L590.8 583.89 L592.8 583.89 L592.8 585.38 L594.8 585.38 L594.8 585.71 L596.8 585.71 L596.8 589.18 L598.8 589.18 L598.8 585.45 L600.8 585.45 L600.8 589.23 L602.8 589.23 L602.8 591.67 L604.8 591.67 L604.8 584.34 L606.8 584.34 L606.8 583.63 L608.8 583.63 L608.8 590.66 L610.8 590.66 L610.8 592.39 L612.8 592.39 L612.8 587.37 L614.8 587.37 L614.8 588.93 L616.8 588.93 L616.8 587.24 L618.8 587.24 L618.8 584.75 L620.8 584.75 L620.8 588.4 L622.8 588.4 L622.8 582.76 L624.8 582.76 L624.8 584.71 L626.8 584.71 L626.8 590.33 L628.8 590.33 L628.8 581.78 L630.8 581.78 L630.8 586.36 L632.8 586.36 L632.8 589.82 L634.8 589.82 L634.8 584.67 L636.8 584.67 L636.8 581.8 L638.8 581.8 L638.8 589.06 L640.8 589.06 L640.8 590.45 L642.8 590.45 L642.8 582.39 L644.8 582.39 L644.8 590.48 L646.8 590.48 L646.8 591.28 L648.8 591.28 L648.8 594 L650.8 594 L650.8 588.76 L652.8 588.76 L652.8 589.07 L654.8 589.07 L654.8 586.97 L656.8 586.97 L656.8 584.84 L658.8 584.84 L658.8 586.04 L660.8 586.04 L660.8 585.7 L662.8 585.7 L662.8 581.96 L664.8 581.96 L664.8 590.42 L666.8 590.42 L666.8 597.4 L668.8 597.4 L668.8 584.28 L670.8 584.28 L670.8 588.93 L672.8 588.93 L672.8 594.4 L674.8 594.4 L674.8 589.18 L676.8 589.18 L676.8 584.9 L678.8 584.9 L678.8 590.69 L680.8 590.69 L680.8 589.73 L682.8 589.73 L682.8 585.78 L684.8 585.78 L684.8 582.59 L686.8 582.59 L686.8 591.35 L688.8 591.35 L688.8 589.26 L690.8 589.26 L690.8 589.79 L692.8 589.79 L692.8 584.59 L694.8 584.59 L694.8 582.08 L696.8 582.08 L696.8 590.6 L698.8 590.6 L698.8 582.87 L700.8 582.87 L700.8 589.49 L702.8 589.49 L702.8 587.69 L704.8 587.69 L704.8 582.17 L706.8 582.17 L706.8 587.27 L708.8 587.27 L708.8 587.76 L710.8 587.76 L710.8 589.47 L712.8 589.47 L712.8 585.09 L714.8 585.09 L714.8 590.07 L716.8 590.07 L716.8 587.97 L718.8 587.97 L718.8 591.65 L720.8 591.65 L720.8 582.86 L722.8 582.86 L722.8 591.9 L724.8 591.9 L724.8 585.11 L726.8 585.11 L726.8 589.42 L728.8 589.42 L728.8 590.3 L730.8 590.3 L730.8 582.26 L732.8 582.26 L732.8 591 L734.8 591 L734.8 585.12 L736.8 585.12 L736.8 590.11 L738.8 590.11 L738.8 591.88 L740.8 591.88 L740.8 583.22 L742.8 583.22 L742.8 587.44 L744.8 587.44 L744.8 583.37 L746.8 583.37 L746.8 590.2 L748.8 590.2 L748.8 585.21 L750.8 585.21 L750.8 591.12 L752.8 591.12 L752.8 590.9 L754.8 590.9 L754.8 590.38 L756.8 590.38 L756.8 591.55 L758.8 591.55 L758.8 590.03 L760.8 590.03 L760.8 590.87 L762.8 590.87 L762.8 591.38 L764.8 591.38 L764.8 589.02 L766.8 589.02 L766.8 590.04 L768.8 590.04 L768.8 592.37 L770.8 592.37 L770.8 589.22 L772.8 589.22 L772.8 582.21 L774.8 582.21 L774.8 583.46 L776.8 583.46 L776.8 590.87 L778.8 590.87 L778.8 583.25 L780.8 583.25 L780.8 589.65 L782.8 589.65 L782.8 589.95 L784.8 589.95 L784.8 589.74 L786.8 589.74 L786.8 583.85 L788.8 583.85 L788.8 581.94 L790.8 581.94 L790.8 587.44 L792.8 587.44 L792.8 590.65 L794.8 590.65 L794.8 583.58 L796.8 583.58 L796.8 597.56 L798.8 597.56 L798.8 590.82 L800.8 590.82 L800.8 595.59 L802.8 595.59 L802.8 582.67 L804.8 582.67 L804.8 587.35 L806.8 587.35 L806.8 590.56 L808.8 590.56 L808.8 591.31 L810.8 591.31 L810.8 584.79 L812.8 584.79 L812.8 586.02 L814.8 586.02 L814.8 584.25 L816.8 584.25 L816.8 596.54 L818.8 596.54 L818.8 586.72 L820.8 586.72 L820.8 590.07 L822.8 590.07 L822.8 589.93 L824.8 589.93 L824.8 590.63 L826.8 590.63 L826.8 585.56 L828.8 585.56 L828 600Z" fill="#000000" stroke="#000000" stroke-width="0.5" stroke-linejoin="round"/></g>
<path d="M54 600 L54 585.8 L55 588 L56 589.7 L58 590.6 L59.5 592 L60.5 593 L61.8 596 L62.8 596 L63.6 593 L64.5 589 L65.2 586.5 L66 585.6 L67 586.3 L68 587.4 L69 589.5 L70 590.2 L71 588.5 L72 587 L73 588 L74 590 L75 600Z" fill="#000000" clip-path="url(#c2)"/>
<rect x="54.8" y="3.8" width="770.8" height="595.1" fill="none" stroke="#000" stroke-width="2.0"/>
<line x1="54.8" y1="201.9" x2="825.6" y2="201.9" stroke="#000" stroke-width="2.0"/>
<line x1="54.8" y1="400.6" x2="825.6" y2="400.6" stroke="#000" stroke-width="2.0"/>
<line x1="615.2" y1="56.8" x2="681.5" y2="56.8" stroke="#8000FF" stroke-width="3" stroke-linecap="round"/>
<line x1="636.5" y1="258.2" x2="702.5" y2="258.2" stroke="#00FF00" stroke-width="3" stroke-linecap="round"/>
<line x1="688.2" y1="458" x2="749.1" y2="458" stroke="#000000" stroke-width="3" stroke-linecap="round"/>
<text transform="translate(689.82 67.6) scale(0.89 1)" font-family="'Liberation Sans', sans-serif" font-size="34" text-anchor="start">RO-form</text>
<text transform="translate(711.48 267.6) scale(0.89 1)" font-family="'Liberation Sans', sans-serif" font-size="34" text-anchor="start">G-form</text>
<text transform="translate(756.01 468.6) scale(0.89 1)" font-family="'Liberation Sans', sans-serif" font-size="34" text-anchor="start">IRF</text>
<text transform="translate(68.65 637) scale(0.89 1)" font-family="'Liberation Sans', sans-serif" font-size="34" text-anchor="middle">0</text>
<text transform="translate(206.28 637) scale(0.89 1)" font-family="'Liberation Sans', sans-serif" font-size="34" text-anchor="middle">2</text>
<text transform="translate(343.91 637) scale(0.89 1)" font-family="'Liberation Sans', sans-serif" font-size="34" text-anchor="middle">4</text>
<text transform="translate(481.54 637) scale(0.89 1)" font-family="'Liberation Sans', sans-serif" font-size="34" text-anchor="middle">6</text>
<text transform="translate(619.17 637) scale(0.89 1)" font-family="'Liberation Sans', sans-serif" font-size="34" text-anchor="middle">8</text>
<text transform="translate(756.8 637) scale(0.89 1)" font-family="'Liberation Sans', sans-serif" font-size="34" text-anchor="middle">10</text>
<text transform="translate(335.07 684) scale(0.91 1)" font-family="'Liberation Sans', sans-serif" font-size="50.4" text-anchor="start">Time (ns)</text>
<text transform="translate(36 492.92) rotate(-90) scale(1 0.9)" font-family="'Liberation Sans', sans-serif" font-size="50.2">FL intensity (a.u.)</text>
</g>
</svg>
</body></html>
